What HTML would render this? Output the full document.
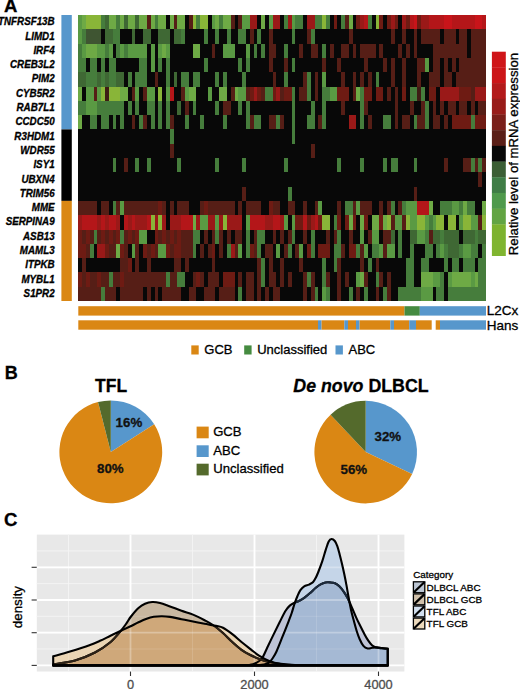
<!DOCTYPE html>
<html><head><meta charset="utf-8"><style>
html,body{margin:0;padding:0;background:#fff;}
svg{display:block;}
text{font-family:"Liberation Sans",sans-serif;stroke:currentColor;stroke-width:0.3px;paint-order:stroke;}
text[fill="#4d4d4d"]{color:#4d4d4d;}
text[fill="#111"]{color:#111;}
</style></head><body>
<svg width="520" height="689" viewBox="0 0 520 689" font-family="Liberation Sans, sans-serif">
<rect width="520" height="689" fill="#fff"/>
<text x="4.0" y="12.2" font-size="18.5" font-weight="bold">A</text>
<text transform="translate(54.6,25.20) scale(0.955,1)" font-size="10.25" font-weight="bold" font-style="italic" text-anchor="end">TNFRSF13B</text>
<text transform="translate(54.6,39.50) scale(0.955,1)" font-size="10.25" font-weight="bold" font-style="italic" text-anchor="end">LIMD1</text>
<text transform="translate(54.6,53.80) scale(0.955,1)" font-size="10.25" font-weight="bold" font-style="italic" text-anchor="end">IRF4</text>
<text transform="translate(54.6,68.10) scale(0.955,1)" font-size="10.25" font-weight="bold" font-style="italic" text-anchor="end">CREB3L2</text>
<text transform="translate(54.6,82.40) scale(0.955,1)" font-size="10.25" font-weight="bold" font-style="italic" text-anchor="end">PIM2</text>
<text transform="translate(54.6,96.70) scale(0.955,1)" font-size="10.25" font-weight="bold" font-style="italic" text-anchor="end">CYB5R2</text>
<text transform="translate(54.6,111.00) scale(0.955,1)" font-size="10.25" font-weight="bold" font-style="italic" text-anchor="end">RAB7L1</text>
<text transform="translate(54.6,125.30) scale(0.955,1)" font-size="10.25" font-weight="bold" font-style="italic" text-anchor="end">CCDC50</text>
<text transform="translate(54.6,139.60) scale(0.955,1)" font-size="10.25" font-weight="bold" font-style="italic" text-anchor="end">R3HDM1</text>
<text transform="translate(54.6,153.90) scale(0.955,1)" font-size="10.25" font-weight="bold" font-style="italic" text-anchor="end">WDR55</text>
<text transform="translate(54.6,168.20) scale(0.955,1)" font-size="10.25" font-weight="bold" font-style="italic" text-anchor="end">ISY1</text>
<text transform="translate(54.6,182.50) scale(0.955,1)" font-size="10.25" font-weight="bold" font-style="italic" text-anchor="end">UBXN4</text>
<text transform="translate(54.6,196.80) scale(0.955,1)" font-size="10.25" font-weight="bold" font-style="italic" text-anchor="end">TRIM56</text>
<text transform="translate(54.6,211.10) scale(0.955,1)" font-size="10.25" font-weight="bold" font-style="italic" text-anchor="end">MME</text>
<text transform="translate(54.6,225.40) scale(0.955,1)" font-size="10.25" font-weight="bold" font-style="italic" text-anchor="end">SERPINA9</text>
<text transform="translate(54.6,239.70) scale(0.955,1)" font-size="10.25" font-weight="bold" font-style="italic" text-anchor="end">ASB13</text>
<text transform="translate(54.6,254.00) scale(0.955,1)" font-size="10.25" font-weight="bold" font-style="italic" text-anchor="end">MAML3</text>
<text transform="translate(54.6,268.30) scale(0.955,1)" font-size="10.25" font-weight="bold" font-style="italic" text-anchor="end">ITPKB</text>
<text transform="translate(54.6,282.60) scale(0.955,1)" font-size="10.25" font-weight="bold" font-style="italic" text-anchor="end">MYBL1</text>
<text transform="translate(54.6,296.90) scale(0.955,1)" font-size="10.25" font-weight="bold" font-style="italic" text-anchor="end">S1PR2</text>
<rect x="61.4" y="15.0" width="10.4" height="114.40" fill="#5797cc"/>
<rect x="61.4" y="129.40" width="10.4" height="71.50" fill="#000"/>
<rect x="61.4" y="200.90" width="10.4" height="100.10" fill="#da8714"/>
<g shape-rendering="crispEdges">
<rect x="78.3" y="15.0" width="407.70" height="286.00" fill="#080808"/>
<rect x="78.30" y="15.00" width="3.81" height="14.30" fill="#5a9a43"/>
<rect x="82.11" y="15.00" width="3.81" height="14.30" fill="#6eaa45"/>
<rect x="85.92" y="15.00" width="15.24" height="14.30" fill="#89b538"/>
<rect x="101.16" y="15.00" width="3.81" height="14.30" fill="#467d3c"/>
<rect x="104.97" y="15.00" width="3.81" height="14.30" fill="#3f6834"/>
<rect x="108.78" y="15.00" width="7.62" height="14.30" fill="#6eaa45"/>
<rect x="116.40" y="15.00" width="3.81" height="14.30" fill="#467d3c"/>
<rect x="120.21" y="15.00" width="3.81" height="14.30" fill="#6eaa45"/>
<rect x="124.02" y="15.00" width="3.81" height="14.30" fill="#3f6834"/>
<rect x="127.83" y="15.00" width="7.62" height="14.30" fill="#6eaa45"/>
<rect x="135.45" y="15.00" width="3.81" height="14.30" fill="#3f6834"/>
<rect x="139.26" y="15.00" width="7.62" height="14.30" fill="#6eaa45"/>
<rect x="146.89" y="15.00" width="3.81" height="14.30" fill="#561e16"/>
<rect x="150.70" y="15.00" width="3.81" height="14.30" fill="#6eaa45"/>
<rect x="154.51" y="15.00" width="3.81" height="14.30" fill="#467d3c"/>
<rect x="158.32" y="15.00" width="7.62" height="14.30" fill="#6eaa45"/>
<rect x="169.75" y="15.00" width="3.81" height="14.30" fill="#6eaa45"/>
<rect x="173.56" y="15.00" width="3.81" height="14.30" fill="#561e16"/>
<rect x="177.37" y="15.00" width="7.62" height="14.30" fill="#6eaa45"/>
<rect x="188.80" y="15.00" width="3.81" height="14.30" fill="#561e16"/>
<rect x="192.61" y="15.00" width="3.81" height="14.30" fill="#89b538"/>
<rect x="196.42" y="15.00" width="3.81" height="14.30" fill="#467d3c"/>
<rect x="200.23" y="15.00" width="7.62" height="14.30" fill="#89b538"/>
<rect x="211.66" y="15.00" width="3.81" height="14.30" fill="#5a9a43"/>
<rect x="215.47" y="15.00" width="3.81" height="14.30" fill="#6eaa45"/>
<rect x="219.28" y="15.00" width="3.81" height="14.30" fill="#467d3c"/>
<rect x="223.09" y="15.00" width="7.62" height="14.30" fill="#6eaa45"/>
<rect x="230.71" y="15.00" width="3.81" height="14.30" fill="#561e16"/>
<rect x="238.33" y="15.00" width="3.81" height="14.30" fill="#561e16"/>
<rect x="242.14" y="15.00" width="7.62" height="14.30" fill="#5a9a43"/>
<rect x="249.76" y="15.00" width="7.62" height="14.30" fill="#9a1918"/>
<rect x="261.19" y="15.00" width="3.81" height="14.30" fill="#6eaa45"/>
<rect x="268.81" y="15.00" width="3.81" height="14.30" fill="#5a9a43"/>
<rect x="272.62" y="15.00" width="7.62" height="14.30" fill="#9a1918"/>
<rect x="284.06" y="15.00" width="3.81" height="14.30" fill="#467d3c"/>
<rect x="287.87" y="15.00" width="3.81" height="14.30" fill="#9a1918"/>
<rect x="291.68" y="15.00" width="3.81" height="14.30" fill="#5a9a43"/>
<rect x="295.49" y="15.00" width="7.62" height="14.30" fill="#467d3c"/>
<rect x="306.92" y="15.00" width="7.62" height="14.30" fill="#9a1918"/>
<rect x="314.54" y="15.00" width="7.62" height="14.30" fill="#467d3c"/>
<rect x="322.16" y="15.00" width="3.81" height="14.30" fill="#89b538"/>
<rect x="325.97" y="15.00" width="3.81" height="14.30" fill="#467d3c"/>
<rect x="333.59" y="15.00" width="3.81" height="14.30" fill="#6e1b13"/>
<rect x="341.21" y="15.00" width="3.81" height="14.30" fill="#467d3c"/>
<rect x="345.02" y="15.00" width="3.81" height="14.30" fill="#561e16"/>
<rect x="348.83" y="15.00" width="3.81" height="14.30" fill="#6eaa45"/>
<rect x="356.45" y="15.00" width="3.81" height="14.30" fill="#6e1b13"/>
<rect x="360.26" y="15.00" width="3.81" height="14.30" fill="#9a1918"/>
<rect x="364.07" y="15.00" width="3.81" height="14.30" fill="#b41619"/>
<rect x="367.88" y="15.00" width="3.81" height="14.30" fill="#467d3c"/>
<rect x="375.50" y="15.00" width="3.81" height="14.30" fill="#89b538"/>
<rect x="379.31" y="15.00" width="3.81" height="14.30" fill="#6e1b13"/>
<rect x="386.93" y="15.00" width="3.81" height="14.30" fill="#6e1b13"/>
<rect x="390.74" y="15.00" width="3.81" height="14.30" fill="#9a1918"/>
<rect x="394.55" y="15.00" width="3.81" height="14.30" fill="#6e1b13"/>
<rect x="402.17" y="15.00" width="3.81" height="14.30" fill="#9a1918"/>
<rect x="405.98" y="15.00" width="3.81" height="14.30" fill="#6e1b13"/>
<rect x="409.79" y="15.00" width="3.81" height="14.30" fill="#b41619"/>
<rect x="413.60" y="15.00" width="3.81" height="14.30" fill="#c8141a"/>
<rect x="417.41" y="15.00" width="3.81" height="14.30" fill="#6e1b13"/>
<rect x="421.23" y="15.00" width="7.62" height="14.30" fill="#9a1918"/>
<rect x="428.85" y="15.00" width="15.24" height="14.30" fill="#b41619"/>
<rect x="444.09" y="15.00" width="7.62" height="14.30" fill="#c8141a"/>
<rect x="451.71" y="15.00" width="22.86" height="14.30" fill="#b41619"/>
<rect x="474.57" y="15.00" width="7.62" height="14.30" fill="#c8141a"/>
<rect x="482.19" y="15.00" width="3.81" height="14.30" fill="#b41619"/>
<rect x="78.30" y="29.30" width="3.81" height="14.30" fill="#5a9a43"/>
<rect x="82.11" y="29.30" width="3.81" height="14.30" fill="#467d3c"/>
<rect x="85.92" y="29.30" width="15.24" height="14.30" fill="#3f5532"/>
<rect x="104.97" y="29.30" width="7.62" height="14.30" fill="#3f6834"/>
<rect x="112.59" y="29.30" width="7.62" height="14.30" fill="#467d3c"/>
<rect x="131.64" y="29.30" width="3.81" height="14.30" fill="#3f6834"/>
<rect x="143.07" y="29.30" width="7.62" height="14.30" fill="#3f6834"/>
<rect x="158.32" y="29.30" width="11.43" height="14.30" fill="#3f6834"/>
<rect x="173.56" y="29.30" width="7.62" height="14.30" fill="#3f6834"/>
<rect x="181.18" y="29.30" width="3.81" height="14.30" fill="#467d3c"/>
<rect x="204.04" y="29.30" width="3.81" height="14.30" fill="#467d3c"/>
<rect x="215.47" y="29.30" width="3.81" height="14.30" fill="#467d3c"/>
<rect x="226.90" y="29.30" width="3.81" height="14.30" fill="#467d3c"/>
<rect x="238.33" y="29.30" width="7.62" height="14.30" fill="#467d3c"/>
<rect x="249.76" y="29.30" width="3.81" height="14.30" fill="#561e16"/>
<rect x="257.38" y="29.30" width="3.81" height="14.30" fill="#467d3c"/>
<rect x="268.81" y="29.30" width="3.81" height="14.30" fill="#561e16"/>
<rect x="291.68" y="29.30" width="3.81" height="14.30" fill="#467d3c"/>
<rect x="306.92" y="29.30" width="3.81" height="14.30" fill="#561e16"/>
<rect x="310.73" y="29.30" width="3.81" height="14.30" fill="#467d3c"/>
<rect x="348.83" y="29.30" width="3.81" height="14.30" fill="#561e16"/>
<rect x="390.74" y="29.30" width="3.81" height="14.30" fill="#561e16"/>
<rect x="402.17" y="29.30" width="3.81" height="14.30" fill="#561e16"/>
<rect x="413.60" y="29.30" width="3.81" height="14.30" fill="#561e16"/>
<rect x="421.23" y="29.30" width="19.05" height="14.30" fill="#561e16"/>
<rect x="444.09" y="29.30" width="11.43" height="14.30" fill="#561e16"/>
<rect x="459.33" y="29.30" width="7.62" height="14.30" fill="#561e16"/>
<rect x="470.76" y="29.30" width="15.24" height="14.30" fill="#561e16"/>
<rect x="78.30" y="43.60" width="3.81" height="14.30" fill="#467d3c"/>
<rect x="82.11" y="43.60" width="3.81" height="14.30" fill="#5a9a43"/>
<rect x="85.92" y="43.60" width="11.43" height="14.30" fill="#6eaa45"/>
<rect x="97.35" y="43.60" width="7.62" height="14.30" fill="#5a9a43"/>
<rect x="104.97" y="43.60" width="3.81" height="14.30" fill="#467d3c"/>
<rect x="108.78" y="43.60" width="3.81" height="14.30" fill="#5a9a43"/>
<rect x="116.40" y="43.60" width="3.81" height="14.30" fill="#467d3c"/>
<rect x="120.21" y="43.60" width="3.81" height="14.30" fill="#5a9a43"/>
<rect x="124.02" y="43.60" width="3.81" height="14.30" fill="#467d3c"/>
<rect x="127.83" y="43.60" width="19.05" height="14.30" fill="#5a9a43"/>
<rect x="150.70" y="43.60" width="3.81" height="14.30" fill="#5a9a43"/>
<rect x="158.32" y="43.60" width="3.81" height="14.30" fill="#5a9a43"/>
<rect x="162.13" y="43.60" width="3.81" height="14.30" fill="#6eaa45"/>
<rect x="165.94" y="43.60" width="3.81" height="14.30" fill="#5a9a43"/>
<rect x="192.61" y="43.60" width="7.62" height="14.30" fill="#6eaa45"/>
<rect x="211.66" y="43.60" width="3.81" height="14.30" fill="#561e16"/>
<rect x="223.09" y="43.60" width="11.43" height="14.30" fill="#5a9a43"/>
<rect x="245.95" y="43.60" width="3.81" height="14.30" fill="#5a9a43"/>
<rect x="253.57" y="43.60" width="3.81" height="14.30" fill="#467d3c"/>
<rect x="261.19" y="43.60" width="3.81" height="14.30" fill="#467d3c"/>
<rect x="268.81" y="43.60" width="7.62" height="14.30" fill="#561e16"/>
<rect x="284.06" y="43.60" width="3.81" height="14.30" fill="#467d3c"/>
<rect x="299.30" y="43.60" width="3.81" height="14.30" fill="#561e16"/>
<rect x="310.73" y="43.60" width="7.62" height="14.30" fill="#561e16"/>
<rect x="322.16" y="43.60" width="3.81" height="14.30" fill="#467d3c"/>
<rect x="329.78" y="43.60" width="3.81" height="14.30" fill="#561e16"/>
<rect x="341.21" y="43.60" width="7.62" height="14.30" fill="#561e16"/>
<rect x="352.64" y="43.60" width="3.81" height="14.30" fill="#561e16"/>
<rect x="360.26" y="43.60" width="15.24" height="14.30" fill="#561e16"/>
<rect x="379.31" y="43.60" width="3.81" height="14.30" fill="#561e16"/>
<rect x="398.36" y="43.60" width="3.81" height="14.30" fill="#561e16"/>
<rect x="405.98" y="43.60" width="3.81" height="14.30" fill="#561e16"/>
<rect x="413.60" y="43.60" width="3.81" height="14.30" fill="#561e16"/>
<rect x="432.66" y="43.60" width="34.29" height="14.30" fill="#561e16"/>
<rect x="470.76" y="43.60" width="15.24" height="14.30" fill="#561e16"/>
<rect x="78.30" y="57.90" width="7.62" height="14.30" fill="#467d3c"/>
<rect x="89.73" y="57.90" width="7.62" height="14.30" fill="#467d3c"/>
<rect x="101.16" y="57.90" width="3.81" height="14.30" fill="#467d3c"/>
<rect x="108.78" y="57.90" width="7.62" height="14.30" fill="#467d3c"/>
<rect x="139.26" y="57.90" width="7.62" height="14.30" fill="#467d3c"/>
<rect x="150.70" y="57.90" width="3.81" height="14.30" fill="#5a9a43"/>
<rect x="158.32" y="57.90" width="3.81" height="14.30" fill="#467d3c"/>
<rect x="165.94" y="57.90" width="3.81" height="14.30" fill="#467d3c"/>
<rect x="204.04" y="57.90" width="3.81" height="14.30" fill="#467d3c"/>
<rect x="238.33" y="57.90" width="3.81" height="14.30" fill="#467d3c"/>
<rect x="245.95" y="57.90" width="3.81" height="14.30" fill="#467d3c"/>
<rect x="268.81" y="57.90" width="3.81" height="14.30" fill="#561e16"/>
<rect x="284.06" y="57.90" width="3.81" height="14.30" fill="#561e16"/>
<rect x="291.68" y="57.90" width="3.81" height="14.30" fill="#467d3c"/>
<rect x="322.16" y="57.90" width="3.81" height="14.30" fill="#561e16"/>
<rect x="337.40" y="57.90" width="3.81" height="14.30" fill="#561e16"/>
<rect x="364.07" y="57.90" width="3.81" height="14.30" fill="#561e16"/>
<rect x="383.12" y="57.90" width="3.81" height="14.30" fill="#561e16"/>
<rect x="390.74" y="57.90" width="3.81" height="14.30" fill="#561e16"/>
<rect x="402.17" y="57.90" width="3.81" height="14.30" fill="#561e16"/>
<rect x="417.41" y="57.90" width="7.62" height="14.30" fill="#561e16"/>
<rect x="425.04" y="57.90" width="3.81" height="14.30" fill="#5a9a43"/>
<rect x="432.66" y="57.90" width="7.62" height="14.30" fill="#561e16"/>
<rect x="444.09" y="57.90" width="3.81" height="14.30" fill="#561e16"/>
<rect x="451.71" y="57.90" width="3.81" height="14.30" fill="#561e16"/>
<rect x="459.33" y="57.90" width="26.67" height="14.30" fill="#561e16"/>
<rect x="78.30" y="72.20" width="7.62" height="14.30" fill="#3f6834"/>
<rect x="85.92" y="72.20" width="11.43" height="14.30" fill="#467d3c"/>
<rect x="97.35" y="72.20" width="3.81" height="14.30" fill="#3f6834"/>
<rect x="101.16" y="72.20" width="3.81" height="14.30" fill="#467d3c"/>
<rect x="104.97" y="72.20" width="3.81" height="14.30" fill="#3f6834"/>
<rect x="108.78" y="72.20" width="7.62" height="14.30" fill="#467d3c"/>
<rect x="116.40" y="72.20" width="7.62" height="14.30" fill="#3f6834"/>
<rect x="127.83" y="72.20" width="3.81" height="14.30" fill="#467d3c"/>
<rect x="135.45" y="72.20" width="11.43" height="14.30" fill="#467d3c"/>
<rect x="154.51" y="72.20" width="3.81" height="14.30" fill="#561e16"/>
<rect x="165.94" y="72.20" width="3.81" height="14.30" fill="#467d3c"/>
<rect x="173.56" y="72.20" width="3.81" height="14.30" fill="#3f6834"/>
<rect x="181.18" y="72.20" width="7.62" height="14.30" fill="#467d3c"/>
<rect x="192.61" y="72.20" width="7.62" height="14.30" fill="#467d3c"/>
<rect x="215.47" y="72.20" width="3.81" height="14.30" fill="#467d3c"/>
<rect x="223.09" y="72.20" width="3.81" height="14.30" fill="#467d3c"/>
<rect x="242.14" y="72.20" width="3.81" height="14.30" fill="#467d3c"/>
<rect x="272.62" y="72.20" width="3.81" height="14.30" fill="#561e16"/>
<rect x="284.06" y="72.20" width="3.81" height="14.30" fill="#467d3c"/>
<rect x="303.11" y="72.20" width="3.81" height="14.30" fill="#561e16"/>
<rect x="306.92" y="72.20" width="3.81" height="14.30" fill="#467d3c"/>
<rect x="314.54" y="72.20" width="3.81" height="14.30" fill="#561e16"/>
<rect x="322.16" y="72.20" width="3.81" height="14.30" fill="#5a9a43"/>
<rect x="341.21" y="72.20" width="3.81" height="14.30" fill="#561e16"/>
<rect x="352.64" y="72.20" width="3.81" height="14.30" fill="#561e16"/>
<rect x="360.26" y="72.20" width="3.81" height="14.30" fill="#561e16"/>
<rect x="367.88" y="72.20" width="3.81" height="14.30" fill="#561e16"/>
<rect x="375.50" y="72.20" width="3.81" height="14.30" fill="#467d3c"/>
<rect x="390.74" y="72.20" width="3.81" height="14.30" fill="#561e16"/>
<rect x="402.17" y="72.20" width="3.81" height="14.30" fill="#561e16"/>
<rect x="417.41" y="72.20" width="3.81" height="14.30" fill="#561e16"/>
<rect x="428.85" y="72.20" width="11.43" height="14.30" fill="#561e16"/>
<rect x="444.09" y="72.20" width="7.62" height="14.30" fill="#561e16"/>
<rect x="455.52" y="72.20" width="30.48" height="14.30" fill="#561e16"/>
<rect x="78.30" y="86.50" width="3.81" height="14.30" fill="#6eaa45"/>
<rect x="85.92" y="86.50" width="7.62" height="14.30" fill="#5a9a43"/>
<rect x="93.54" y="86.50" width="3.81" height="14.30" fill="#561e16"/>
<rect x="97.35" y="86.50" width="3.81" height="14.30" fill="#5a9a43"/>
<rect x="101.16" y="86.50" width="3.81" height="14.30" fill="#89b538"/>
<rect x="104.97" y="86.50" width="3.81" height="14.30" fill="#3e1c14"/>
<rect x="108.78" y="86.50" width="11.43" height="14.30" fill="#89b538"/>
<rect x="120.21" y="86.50" width="7.62" height="14.30" fill="#6eaa45"/>
<rect x="131.64" y="86.50" width="3.81" height="14.30" fill="#561e16"/>
<rect x="135.45" y="86.50" width="3.81" height="14.30" fill="#5a9a43"/>
<rect x="143.07" y="86.50" width="3.81" height="14.30" fill="#561e16"/>
<rect x="146.89" y="86.50" width="7.62" height="14.30" fill="#5a9a43"/>
<rect x="158.32" y="86.50" width="3.81" height="14.30" fill="#89b538"/>
<rect x="165.94" y="86.50" width="3.81" height="14.30" fill="#5a9a43"/>
<rect x="169.75" y="86.50" width="3.81" height="14.30" fill="#b41619"/>
<rect x="181.18" y="86.50" width="3.81" height="14.30" fill="#561e16"/>
<rect x="184.99" y="86.50" width="3.81" height="14.30" fill="#5a9a43"/>
<rect x="188.80" y="86.50" width="7.62" height="14.30" fill="#6eaa45"/>
<rect x="207.85" y="86.50" width="3.81" height="14.30" fill="#5a9a43"/>
<rect x="219.28" y="86.50" width="7.62" height="14.30" fill="#6eaa45"/>
<rect x="230.71" y="86.50" width="3.81" height="14.30" fill="#561e16"/>
<rect x="234.52" y="86.50" width="3.81" height="14.30" fill="#6eaa45"/>
<rect x="238.33" y="86.50" width="7.62" height="14.30" fill="#5a9a43"/>
<rect x="245.95" y="86.50" width="3.81" height="14.30" fill="#561e16"/>
<rect x="249.76" y="86.50" width="3.81" height="14.30" fill="#6e1b13"/>
<rect x="253.57" y="86.50" width="3.81" height="14.30" fill="#9a1918"/>
<rect x="257.38" y="86.50" width="3.81" height="14.30" fill="#6e1b13"/>
<rect x="261.19" y="86.50" width="3.81" height="14.30" fill="#561e16"/>
<rect x="265.00" y="86.50" width="7.62" height="14.30" fill="#467d3c"/>
<rect x="272.62" y="86.50" width="3.81" height="14.30" fill="#6e1b13"/>
<rect x="276.43" y="86.50" width="3.81" height="14.30" fill="#9a1918"/>
<rect x="280.24" y="86.50" width="3.81" height="14.30" fill="#561e16"/>
<rect x="284.06" y="86.50" width="7.62" height="14.30" fill="#6e1b13"/>
<rect x="291.68" y="86.50" width="3.81" height="14.30" fill="#467d3c"/>
<rect x="299.30" y="86.50" width="7.62" height="14.30" fill="#561e16"/>
<rect x="306.92" y="86.50" width="3.81" height="14.30" fill="#467d3c"/>
<rect x="314.54" y="86.50" width="3.81" height="14.30" fill="#561e16"/>
<rect x="322.16" y="86.50" width="7.62" height="14.30" fill="#467d3c"/>
<rect x="329.78" y="86.50" width="7.62" height="14.30" fill="#5a9a43"/>
<rect x="337.40" y="86.50" width="11.43" height="14.30" fill="#6e1b13"/>
<rect x="352.64" y="86.50" width="3.81" height="14.30" fill="#561e16"/>
<rect x="356.45" y="86.50" width="3.81" height="14.30" fill="#6eaa45"/>
<rect x="360.26" y="86.50" width="3.81" height="14.30" fill="#467d3c"/>
<rect x="364.07" y="86.50" width="7.62" height="14.30" fill="#6e1b13"/>
<rect x="375.50" y="86.50" width="7.62" height="14.30" fill="#6e1b13"/>
<rect x="386.93" y="86.50" width="3.81" height="14.30" fill="#561e16"/>
<rect x="394.55" y="86.50" width="3.81" height="14.30" fill="#561e16"/>
<rect x="402.17" y="86.50" width="3.81" height="14.30" fill="#6e1b13"/>
<rect x="409.79" y="86.50" width="7.62" height="14.30" fill="#467d3c"/>
<rect x="417.41" y="86.50" width="3.81" height="14.30" fill="#3e1c14"/>
<rect x="421.23" y="86.50" width="3.81" height="14.30" fill="#467d3c"/>
<rect x="428.85" y="86.50" width="7.62" height="14.30" fill="#6e1b13"/>
<rect x="440.28" y="86.50" width="19.05" height="14.30" fill="#9a1918"/>
<rect x="459.33" y="86.50" width="11.43" height="14.30" fill="#6e1b13"/>
<rect x="470.76" y="86.50" width="3.81" height="14.30" fill="#561e16"/>
<rect x="474.57" y="86.50" width="11.43" height="14.30" fill="#9a1918"/>
<rect x="78.30" y="100.80" width="7.62" height="14.30" fill="#467d3c"/>
<rect x="85.92" y="100.80" width="11.43" height="14.30" fill="#5a9a43"/>
<rect x="97.35" y="100.80" width="26.67" height="14.30" fill="#467d3c"/>
<rect x="127.83" y="100.80" width="3.81" height="14.30" fill="#467d3c"/>
<rect x="135.45" y="100.80" width="3.81" height="14.30" fill="#467d3c"/>
<rect x="146.89" y="100.80" width="7.62" height="14.30" fill="#467d3c"/>
<rect x="158.32" y="100.80" width="3.81" height="14.30" fill="#467d3c"/>
<rect x="165.94" y="100.80" width="3.81" height="14.30" fill="#467d3c"/>
<rect x="177.37" y="100.80" width="3.81" height="14.30" fill="#3f6834"/>
<rect x="184.99" y="100.80" width="3.81" height="14.30" fill="#561e16"/>
<rect x="192.61" y="100.80" width="3.81" height="14.30" fill="#467d3c"/>
<rect x="215.47" y="100.80" width="3.81" height="14.30" fill="#467d3c"/>
<rect x="223.09" y="100.80" width="7.62" height="14.30" fill="#561e16"/>
<rect x="238.33" y="100.80" width="3.81" height="14.30" fill="#467d3c"/>
<rect x="245.95" y="100.80" width="3.81" height="14.30" fill="#467d3c"/>
<rect x="291.68" y="100.80" width="3.81" height="14.30" fill="#467d3c"/>
<rect x="310.73" y="100.80" width="3.81" height="14.30" fill="#467d3c"/>
<rect x="322.16" y="100.80" width="3.81" height="14.30" fill="#467d3c"/>
<rect x="341.21" y="100.80" width="3.81" height="14.30" fill="#561e16"/>
<rect x="360.26" y="100.80" width="3.81" height="14.30" fill="#467d3c"/>
<rect x="364.07" y="100.80" width="3.81" height="14.30" fill="#561e16"/>
<rect x="394.55" y="100.80" width="3.81" height="14.30" fill="#561e16"/>
<rect x="409.79" y="100.80" width="3.81" height="14.30" fill="#561e16"/>
<rect x="421.23" y="100.80" width="3.81" height="14.30" fill="#561e16"/>
<rect x="425.04" y="100.80" width="3.81" height="14.30" fill="#467d3c"/>
<rect x="432.66" y="100.80" width="3.81" height="14.30" fill="#561e16"/>
<rect x="440.28" y="100.80" width="3.81" height="14.30" fill="#561e16"/>
<rect x="447.90" y="100.80" width="7.62" height="14.30" fill="#561e16"/>
<rect x="459.33" y="100.80" width="7.62" height="14.30" fill="#561e16"/>
<rect x="470.76" y="100.80" width="3.81" height="14.30" fill="#561e16"/>
<rect x="478.38" y="100.80" width="7.62" height="14.30" fill="#561e16"/>
<rect x="78.30" y="115.10" width="3.81" height="14.30" fill="#6eaa45"/>
<rect x="89.73" y="115.10" width="7.62" height="14.30" fill="#467d3c"/>
<rect x="101.16" y="115.10" width="7.62" height="14.30" fill="#467d3c"/>
<rect x="112.59" y="115.10" width="3.81" height="14.30" fill="#467d3c"/>
<rect x="120.21" y="115.10" width="3.81" height="14.30" fill="#467d3c"/>
<rect x="131.64" y="115.10" width="3.81" height="14.30" fill="#561e16"/>
<rect x="139.26" y="115.10" width="3.81" height="14.30" fill="#467d3c"/>
<rect x="143.07" y="115.10" width="3.81" height="14.30" fill="#561e16"/>
<rect x="150.70" y="115.10" width="3.81" height="14.30" fill="#467d3c"/>
<rect x="158.32" y="115.10" width="3.81" height="14.30" fill="#467d3c"/>
<rect x="165.94" y="115.10" width="3.81" height="14.30" fill="#467d3c"/>
<rect x="169.75" y="115.10" width="3.81" height="14.30" fill="#561e16"/>
<rect x="184.99" y="115.10" width="3.81" height="14.30" fill="#467d3c"/>
<rect x="200.23" y="115.10" width="3.81" height="14.30" fill="#467d3c"/>
<rect x="223.09" y="115.10" width="3.81" height="14.30" fill="#467d3c"/>
<rect x="245.95" y="115.10" width="3.81" height="14.30" fill="#467d3c"/>
<rect x="249.76" y="115.10" width="3.81" height="14.30" fill="#561e16"/>
<rect x="253.57" y="115.10" width="7.62" height="14.30" fill="#467d3c"/>
<rect x="268.81" y="115.10" width="7.62" height="14.30" fill="#561e16"/>
<rect x="276.43" y="115.10" width="3.81" height="14.30" fill="#467d3c"/>
<rect x="280.24" y="115.10" width="3.81" height="14.30" fill="#561e16"/>
<rect x="291.68" y="115.10" width="3.81" height="14.30" fill="#467d3c"/>
<rect x="306.92" y="115.10" width="7.62" height="14.30" fill="#467d3c"/>
<rect x="318.35" y="115.10" width="3.81" height="14.30" fill="#561e16"/>
<rect x="322.16" y="115.10" width="3.81" height="14.30" fill="#467d3c"/>
<rect x="348.83" y="115.10" width="7.62" height="14.30" fill="#9a1918"/>
<rect x="360.26" y="115.10" width="3.81" height="14.30" fill="#467d3c"/>
<rect x="367.88" y="115.10" width="3.81" height="14.30" fill="#561e16"/>
<rect x="383.12" y="115.10" width="7.62" height="14.30" fill="#467d3c"/>
<rect x="394.55" y="115.10" width="3.81" height="14.30" fill="#561e16"/>
<rect x="402.17" y="115.10" width="7.62" height="14.30" fill="#561e16"/>
<rect x="413.60" y="115.10" width="3.81" height="14.30" fill="#467d3c"/>
<rect x="417.41" y="115.10" width="7.62" height="14.30" fill="#561e16"/>
<rect x="425.04" y="115.10" width="3.81" height="14.30" fill="#467d3c"/>
<rect x="432.66" y="115.10" width="7.62" height="14.30" fill="#561e16"/>
<rect x="444.09" y="115.10" width="3.81" height="14.30" fill="#561e16"/>
<rect x="451.71" y="115.10" width="19.05" height="14.30" fill="#6e1b13"/>
<rect x="470.76" y="115.10" width="3.81" height="14.30" fill="#467d3c"/>
<rect x="474.57" y="115.10" width="11.43" height="14.30" fill="#6e1b13"/>
<rect x="169.75" y="129.40" width="3.81" height="14.30" fill="#467d3c"/>
<rect x="291.68" y="129.40" width="3.81" height="14.30" fill="#467d3c"/>
<rect x="169.75" y="143.70" width="3.81" height="14.30" fill="#561e16"/>
<rect x="310.73" y="143.70" width="3.81" height="14.30" fill="#561e16"/>
<rect x="112.59" y="158.00" width="3.81" height="14.30" fill="#467d3c"/>
<rect x="124.02" y="158.00" width="3.81" height="14.30" fill="#561e16"/>
<rect x="135.45" y="158.00" width="3.81" height="14.30" fill="#467d3c"/>
<rect x="146.89" y="158.00" width="3.81" height="14.30" fill="#467d3c"/>
<rect x="177.37" y="158.00" width="3.81" height="14.30" fill="#467d3c"/>
<rect x="215.47" y="158.00" width="3.81" height="14.30" fill="#467d3c"/>
<rect x="242.14" y="158.00" width="3.81" height="14.30" fill="#467d3c"/>
<rect x="284.06" y="158.00" width="3.81" height="14.30" fill="#467d3c"/>
<rect x="337.40" y="158.00" width="3.81" height="14.30" fill="#467d3c"/>
<rect x="360.26" y="158.00" width="3.81" height="14.30" fill="#467d3c"/>
<rect x="383.12" y="158.00" width="3.81" height="14.30" fill="#467d3c"/>
<rect x="390.74" y="158.00" width="7.62" height="14.30" fill="#467d3c"/>
<rect x="413.60" y="158.00" width="3.81" height="14.30" fill="#467d3c"/>
<rect x="444.09" y="158.00" width="3.81" height="14.30" fill="#561e16"/>
<rect x="463.14" y="158.00" width="7.62" height="14.30" fill="#561e16"/>
<rect x="470.76" y="158.00" width="3.81" height="14.30" fill="#467d3c"/>
<rect x="474.57" y="158.00" width="3.81" height="14.30" fill="#561e16"/>
<rect x="478.38" y="158.00" width="3.81" height="14.30" fill="#467d3c"/>
<rect x="482.19" y="158.00" width="3.81" height="14.30" fill="#561e16"/>
<rect x="478.38" y="172.30" width="3.81" height="14.30" fill="#561e16"/>
<rect x="242.14" y="186.60" width="3.81" height="14.30" fill="#561e16"/>
<rect x="287.87" y="186.60" width="3.81" height="14.30" fill="#467d3c"/>
<rect x="413.60" y="186.60" width="3.81" height="14.30" fill="#561e16"/>
<rect x="78.30" y="200.90" width="19.05" height="14.30" fill="#561e16"/>
<rect x="101.16" y="200.90" width="7.62" height="14.30" fill="#561e16"/>
<rect x="112.59" y="200.90" width="3.81" height="14.30" fill="#467d3c"/>
<rect x="116.40" y="200.90" width="3.81" height="14.30" fill="#561e16"/>
<rect x="120.21" y="200.90" width="3.81" height="14.30" fill="#5a9a43"/>
<rect x="124.02" y="200.90" width="34.29" height="14.30" fill="#561e16"/>
<rect x="158.32" y="200.90" width="3.81" height="14.30" fill="#6e1b13"/>
<rect x="162.13" y="200.90" width="3.81" height="14.30" fill="#561e16"/>
<rect x="169.75" y="200.90" width="3.81" height="14.30" fill="#561e16"/>
<rect x="177.37" y="200.90" width="11.43" height="14.30" fill="#561e16"/>
<rect x="200.23" y="200.90" width="3.81" height="14.30" fill="#561e16"/>
<rect x="204.04" y="200.90" width="3.81" height="14.30" fill="#6e1b13"/>
<rect x="207.85" y="200.90" width="26.67" height="14.30" fill="#561e16"/>
<rect x="238.33" y="200.90" width="3.81" height="14.30" fill="#561e16"/>
<rect x="245.95" y="200.90" width="15.24" height="14.30" fill="#561e16"/>
<rect x="268.81" y="200.90" width="3.81" height="14.30" fill="#6e1b13"/>
<rect x="272.62" y="200.90" width="7.62" height="14.30" fill="#561e16"/>
<rect x="287.87" y="200.90" width="7.62" height="14.30" fill="#561e16"/>
<rect x="303.11" y="200.90" width="3.81" height="14.30" fill="#561e16"/>
<rect x="314.54" y="200.90" width="3.81" height="14.30" fill="#561e16"/>
<rect x="318.35" y="200.90" width="3.81" height="14.30" fill="#5a9a43"/>
<rect x="337.40" y="200.90" width="3.81" height="14.30" fill="#561e16"/>
<rect x="345.02" y="200.90" width="7.62" height="14.30" fill="#467d3c"/>
<rect x="352.64" y="200.90" width="3.81" height="14.30" fill="#561e16"/>
<rect x="356.45" y="200.90" width="3.81" height="14.30" fill="#5a9a43"/>
<rect x="360.26" y="200.90" width="11.43" height="14.30" fill="#561e16"/>
<rect x="379.31" y="200.90" width="3.81" height="14.30" fill="#561e16"/>
<rect x="386.93" y="200.90" width="3.81" height="14.30" fill="#561e16"/>
<rect x="390.74" y="200.90" width="3.81" height="14.30" fill="#467d3c"/>
<rect x="398.36" y="200.90" width="3.81" height="14.30" fill="#561e16"/>
<rect x="402.17" y="200.90" width="3.81" height="14.30" fill="#467d3c"/>
<rect x="405.98" y="200.90" width="11.43" height="14.30" fill="#5a9a43"/>
<rect x="417.41" y="200.90" width="11.43" height="14.30" fill="#b41619"/>
<rect x="428.85" y="200.90" width="3.81" height="14.30" fill="#6eaa45"/>
<rect x="440.28" y="200.90" width="11.43" height="14.30" fill="#467d3c"/>
<rect x="451.71" y="200.90" width="7.62" height="14.30" fill="#5a9a43"/>
<rect x="459.33" y="200.90" width="3.81" height="14.30" fill="#467d3c"/>
<rect x="463.14" y="200.90" width="3.81" height="14.30" fill="#6eaa45"/>
<rect x="466.95" y="200.90" width="7.62" height="14.30" fill="#467d3c"/>
<rect x="482.19" y="200.90" width="3.81" height="14.30" fill="#6eaa45"/>
<rect x="78.30" y="215.20" width="3.81" height="14.30" fill="#9a1918"/>
<rect x="82.11" y="215.20" width="15.24" height="14.30" fill="#b41619"/>
<rect x="97.35" y="215.20" width="3.81" height="14.30" fill="#9a1918"/>
<rect x="101.16" y="215.20" width="3.81" height="14.30" fill="#b41619"/>
<rect x="104.97" y="215.20" width="3.81" height="14.30" fill="#9a1918"/>
<rect x="108.78" y="215.20" width="7.62" height="14.30" fill="#b41619"/>
<rect x="116.40" y="215.20" width="3.81" height="14.30" fill="#9a1918"/>
<rect x="124.02" y="215.20" width="3.81" height="14.30" fill="#b41619"/>
<rect x="127.83" y="215.20" width="3.81" height="14.30" fill="#9a1918"/>
<rect x="131.64" y="215.20" width="3.81" height="14.30" fill="#b41619"/>
<rect x="135.45" y="215.20" width="11.43" height="14.30" fill="#9a1918"/>
<rect x="146.89" y="215.20" width="3.81" height="14.30" fill="#b41619"/>
<rect x="150.70" y="215.20" width="3.81" height="14.30" fill="#89b538"/>
<rect x="154.51" y="215.20" width="3.81" height="14.30" fill="#9a1918"/>
<rect x="158.32" y="215.20" width="3.81" height="14.30" fill="#89b538"/>
<rect x="162.13" y="215.20" width="3.81" height="14.30" fill="#9a1918"/>
<rect x="169.75" y="215.20" width="11.43" height="14.30" fill="#9a1918"/>
<rect x="181.18" y="215.20" width="11.43" height="14.30" fill="#b41619"/>
<rect x="192.61" y="215.20" width="3.81" height="14.30" fill="#6eaa45"/>
<rect x="196.42" y="215.20" width="3.81" height="14.30" fill="#9a1918"/>
<rect x="200.23" y="215.20" width="7.62" height="14.30" fill="#5a9a43"/>
<rect x="207.85" y="215.20" width="7.62" height="14.30" fill="#9a1918"/>
<rect x="215.47" y="215.20" width="3.81" height="14.30" fill="#5a9a43"/>
<rect x="219.28" y="215.20" width="3.81" height="14.30" fill="#9a1918"/>
<rect x="223.09" y="215.20" width="3.81" height="14.30" fill="#89b538"/>
<rect x="226.90" y="215.20" width="15.24" height="14.30" fill="#9a1918"/>
<rect x="245.95" y="215.20" width="3.81" height="14.30" fill="#5a9a43"/>
<rect x="249.76" y="215.20" width="15.24" height="14.30" fill="#b41619"/>
<rect x="265.00" y="215.20" width="7.62" height="14.30" fill="#9a1918"/>
<rect x="272.62" y="215.20" width="7.62" height="14.30" fill="#b41619"/>
<rect x="280.24" y="215.20" width="3.81" height="14.30" fill="#9a1918"/>
<rect x="284.06" y="215.20" width="3.81" height="14.30" fill="#5a9a43"/>
<rect x="291.68" y="215.20" width="3.81" height="14.30" fill="#5a9a43"/>
<rect x="295.49" y="215.20" width="7.62" height="14.30" fill="#6e1b13"/>
<rect x="303.11" y="215.20" width="3.81" height="14.30" fill="#b41619"/>
<rect x="306.92" y="215.20" width="3.81" height="14.30" fill="#6e1b13"/>
<rect x="310.73" y="215.20" width="3.81" height="14.30" fill="#9a1918"/>
<rect x="314.54" y="215.20" width="3.81" height="14.30" fill="#b41619"/>
<rect x="318.35" y="215.20" width="3.81" height="14.30" fill="#6e1b13"/>
<rect x="322.16" y="215.20" width="7.62" height="14.30" fill="#89b538"/>
<rect x="333.59" y="215.20" width="3.81" height="14.30" fill="#467d3c"/>
<rect x="337.40" y="215.20" width="3.81" height="14.30" fill="#6e1b13"/>
<rect x="345.02" y="215.20" width="3.81" height="14.30" fill="#6e1b13"/>
<rect x="348.83" y="215.20" width="3.81" height="14.30" fill="#6eaa45"/>
<rect x="352.64" y="215.20" width="3.81" height="14.30" fill="#6e1b13"/>
<rect x="360.26" y="215.20" width="3.81" height="14.30" fill="#6eaa45"/>
<rect x="364.07" y="215.20" width="3.81" height="14.30" fill="#6e1b13"/>
<rect x="371.69" y="215.20" width="7.62" height="14.30" fill="#6eaa45"/>
<rect x="379.31" y="215.20" width="3.81" height="14.30" fill="#6e1b13"/>
<rect x="383.12" y="215.20" width="3.81" height="14.30" fill="#6eaa45"/>
<rect x="386.93" y="215.20" width="3.81" height="14.30" fill="#89b538"/>
<rect x="390.74" y="215.20" width="3.81" height="14.30" fill="#561e16"/>
<rect x="394.55" y="215.20" width="7.62" height="14.30" fill="#5a9a43"/>
<rect x="402.17" y="215.20" width="3.81" height="14.30" fill="#561e16"/>
<rect x="405.98" y="215.20" width="3.81" height="14.30" fill="#89b538"/>
<rect x="409.79" y="215.20" width="7.62" height="14.30" fill="#5a9a43"/>
<rect x="417.41" y="215.20" width="7.62" height="14.30" fill="#89b538"/>
<rect x="425.04" y="215.20" width="3.81" height="14.30" fill="#5a9a43"/>
<rect x="428.85" y="215.20" width="3.81" height="14.30" fill="#467d3c"/>
<rect x="432.66" y="215.20" width="3.81" height="14.30" fill="#5a9a43"/>
<rect x="436.47" y="215.20" width="7.62" height="14.30" fill="#89b538"/>
<rect x="447.90" y="215.20" width="7.62" height="14.30" fill="#89b538"/>
<rect x="459.33" y="215.20" width="3.81" height="14.30" fill="#5a9a43"/>
<rect x="463.14" y="215.20" width="7.62" height="14.30" fill="#89b538"/>
<rect x="470.76" y="215.20" width="7.62" height="14.30" fill="#5a9a43"/>
<rect x="478.38" y="215.20" width="3.81" height="14.30" fill="#561e16"/>
<rect x="482.19" y="215.20" width="3.81" height="14.30" fill="#89b538"/>
<rect x="78.30" y="229.50" width="3.81" height="14.30" fill="#6e1b13"/>
<rect x="82.11" y="229.50" width="3.81" height="14.30" fill="#561e16"/>
<rect x="85.92" y="229.50" width="3.81" height="14.30" fill="#6e1b13"/>
<rect x="89.73" y="229.50" width="3.81" height="14.30" fill="#561e16"/>
<rect x="93.54" y="229.50" width="3.81" height="14.30" fill="#467d3c"/>
<rect x="97.35" y="229.50" width="3.81" height="14.30" fill="#561e16"/>
<rect x="101.16" y="229.50" width="3.81" height="14.30" fill="#6e1b13"/>
<rect x="104.97" y="229.50" width="3.81" height="14.30" fill="#561e16"/>
<rect x="108.78" y="229.50" width="3.81" height="14.30" fill="#6e1b13"/>
<rect x="112.59" y="229.50" width="3.81" height="14.30" fill="#561e16"/>
<rect x="116.40" y="229.50" width="3.81" height="14.30" fill="#6e1b13"/>
<rect x="120.21" y="229.50" width="3.81" height="14.30" fill="#467d3c"/>
<rect x="124.02" y="229.50" width="3.81" height="14.30" fill="#561e16"/>
<rect x="127.83" y="229.50" width="3.81" height="14.30" fill="#6e1b13"/>
<rect x="131.64" y="229.50" width="3.81" height="14.30" fill="#561e16"/>
<rect x="135.45" y="229.50" width="3.81" height="14.30" fill="#6e1b13"/>
<rect x="139.26" y="229.50" width="7.62" height="14.30" fill="#5a9a43"/>
<rect x="154.51" y="229.50" width="3.81" height="14.30" fill="#6e1b13"/>
<rect x="158.32" y="229.50" width="3.81" height="14.30" fill="#561e16"/>
<rect x="162.13" y="229.50" width="3.81" height="14.30" fill="#6e1b13"/>
<rect x="165.94" y="229.50" width="3.81" height="14.30" fill="#561e16"/>
<rect x="169.75" y="229.50" width="3.81" height="14.30" fill="#6e1b13"/>
<rect x="173.56" y="229.50" width="3.81" height="14.30" fill="#561e16"/>
<rect x="177.37" y="229.50" width="3.81" height="14.30" fill="#6e1b13"/>
<rect x="181.18" y="229.50" width="11.43" height="14.30" fill="#561e16"/>
<rect x="192.61" y="229.50" width="7.62" height="14.30" fill="#467d3c"/>
<rect x="204.04" y="229.50" width="3.81" height="14.30" fill="#561e16"/>
<rect x="211.66" y="229.50" width="3.81" height="14.30" fill="#561e16"/>
<rect x="215.47" y="229.50" width="3.81" height="14.30" fill="#467d3c"/>
<rect x="219.28" y="229.50" width="3.81" height="14.30" fill="#561e16"/>
<rect x="226.90" y="229.50" width="3.81" height="14.30" fill="#561e16"/>
<rect x="234.52" y="229.50" width="7.62" height="14.30" fill="#561e16"/>
<rect x="245.95" y="229.50" width="3.81" height="14.30" fill="#467d3c"/>
<rect x="253.57" y="229.50" width="3.81" height="14.30" fill="#561e16"/>
<rect x="257.38" y="229.50" width="7.62" height="14.30" fill="#467d3c"/>
<rect x="272.62" y="229.50" width="3.81" height="14.30" fill="#561e16"/>
<rect x="280.24" y="229.50" width="3.81" height="14.30" fill="#561e16"/>
<rect x="287.87" y="229.50" width="3.81" height="14.30" fill="#561e16"/>
<rect x="291.68" y="229.50" width="3.81" height="14.30" fill="#467d3c"/>
<rect x="303.11" y="229.50" width="3.81" height="14.30" fill="#561e16"/>
<rect x="310.73" y="229.50" width="3.81" height="14.30" fill="#467d3c"/>
<rect x="325.97" y="229.50" width="3.81" height="14.30" fill="#561e16"/>
<rect x="333.59" y="229.50" width="3.81" height="14.30" fill="#561e16"/>
<rect x="337.40" y="229.50" width="3.81" height="14.30" fill="#467d3c"/>
<rect x="348.83" y="229.50" width="3.81" height="14.30" fill="#561e16"/>
<rect x="360.26" y="229.50" width="3.81" height="14.30" fill="#5a9a43"/>
<rect x="367.88" y="229.50" width="3.81" height="14.30" fill="#561e16"/>
<rect x="371.69" y="229.50" width="7.62" height="14.30" fill="#5a9a43"/>
<rect x="383.12" y="229.50" width="7.62" height="14.30" fill="#561e16"/>
<rect x="390.74" y="229.50" width="3.81" height="14.30" fill="#3f6834"/>
<rect x="398.36" y="229.50" width="3.81" height="14.30" fill="#467d3c"/>
<rect x="409.79" y="229.50" width="7.62" height="14.30" fill="#3f6834"/>
<rect x="417.41" y="229.50" width="7.62" height="14.30" fill="#5a9a43"/>
<rect x="425.04" y="229.50" width="3.81" height="14.30" fill="#467d3c"/>
<rect x="428.85" y="229.50" width="3.81" height="14.30" fill="#561e16"/>
<rect x="432.66" y="229.50" width="7.62" height="14.30" fill="#3f6834"/>
<rect x="440.28" y="229.50" width="3.81" height="14.30" fill="#467d3c"/>
<rect x="444.09" y="229.50" width="15.24" height="14.30" fill="#3f6834"/>
<rect x="463.14" y="229.50" width="11.43" height="14.30" fill="#3f6834"/>
<rect x="474.57" y="229.50" width="3.81" height="14.30" fill="#467d3c"/>
<rect x="478.38" y="229.50" width="7.62" height="14.30" fill="#3f6834"/>
<rect x="78.30" y="243.80" width="7.62" height="14.30" fill="#6e1b13"/>
<rect x="85.92" y="243.80" width="3.81" height="14.30" fill="#561e16"/>
<rect x="89.73" y="243.80" width="3.81" height="14.30" fill="#467d3c"/>
<rect x="97.35" y="243.80" width="7.62" height="14.30" fill="#9a1918"/>
<rect x="104.97" y="243.80" width="3.81" height="14.30" fill="#6e1b13"/>
<rect x="108.78" y="243.80" width="7.62" height="14.30" fill="#561e16"/>
<rect x="116.40" y="243.80" width="3.81" height="14.30" fill="#6eaa45"/>
<rect x="120.21" y="243.80" width="3.81" height="14.30" fill="#6e1b13"/>
<rect x="124.02" y="243.80" width="3.81" height="14.30" fill="#561e16"/>
<rect x="131.64" y="243.80" width="3.81" height="14.30" fill="#5a9a43"/>
<rect x="135.45" y="243.80" width="3.81" height="14.30" fill="#561e16"/>
<rect x="143.07" y="243.80" width="3.81" height="14.30" fill="#6e1b13"/>
<rect x="146.89" y="243.80" width="3.81" height="14.30" fill="#561e16"/>
<rect x="150.70" y="243.80" width="3.81" height="14.30" fill="#6e1b13"/>
<rect x="154.51" y="243.80" width="3.81" height="14.30" fill="#561e16"/>
<rect x="158.32" y="243.80" width="7.62" height="14.30" fill="#5a9a43"/>
<rect x="165.94" y="243.80" width="3.81" height="14.30" fill="#6e1b13"/>
<rect x="169.75" y="243.80" width="3.81" height="14.30" fill="#561e16"/>
<rect x="173.56" y="243.80" width="7.62" height="14.30" fill="#6e1b13"/>
<rect x="181.18" y="243.80" width="11.43" height="14.30" fill="#561e16"/>
<rect x="192.61" y="243.80" width="3.81" height="14.30" fill="#467d3c"/>
<rect x="200.23" y="243.80" width="3.81" height="14.30" fill="#561e16"/>
<rect x="207.85" y="243.80" width="3.81" height="14.30" fill="#561e16"/>
<rect x="211.66" y="243.80" width="3.81" height="14.30" fill="#6e1b13"/>
<rect x="219.28" y="243.80" width="3.81" height="14.30" fill="#561e16"/>
<rect x="226.90" y="243.80" width="3.81" height="14.30" fill="#467d3c"/>
<rect x="230.71" y="243.80" width="3.81" height="14.30" fill="#9a1918"/>
<rect x="234.52" y="243.80" width="3.81" height="14.30" fill="#561e16"/>
<rect x="238.33" y="243.80" width="3.81" height="14.30" fill="#5a9a43"/>
<rect x="245.95" y="243.80" width="3.81" height="14.30" fill="#467d3c"/>
<rect x="249.76" y="243.80" width="3.81" height="14.30" fill="#6e1b13"/>
<rect x="253.57" y="243.80" width="3.81" height="14.30" fill="#561e16"/>
<rect x="257.38" y="243.80" width="3.81" height="14.30" fill="#467d3c"/>
<rect x="265.00" y="243.80" width="7.62" height="14.30" fill="#561e16"/>
<rect x="276.43" y="243.80" width="3.81" height="14.30" fill="#5a9a43"/>
<rect x="284.06" y="243.80" width="3.81" height="14.30" fill="#561e16"/>
<rect x="287.87" y="243.80" width="3.81" height="14.30" fill="#467d3c"/>
<rect x="295.49" y="243.80" width="3.81" height="14.30" fill="#561e16"/>
<rect x="299.30" y="243.80" width="3.81" height="14.30" fill="#5a9a43"/>
<rect x="306.92" y="243.80" width="3.81" height="14.30" fill="#6e1b13"/>
<rect x="310.73" y="243.80" width="3.81" height="14.30" fill="#467d3c"/>
<rect x="318.35" y="243.80" width="11.43" height="14.30" fill="#6e1b13"/>
<rect x="333.59" y="243.80" width="7.62" height="14.30" fill="#467d3c"/>
<rect x="341.21" y="243.80" width="3.81" height="14.30" fill="#561e16"/>
<rect x="348.83" y="243.80" width="7.62" height="14.30" fill="#6e1b13"/>
<rect x="356.45" y="243.80" width="3.81" height="14.30" fill="#467d3c"/>
<rect x="360.26" y="243.80" width="3.81" height="14.30" fill="#561e16"/>
<rect x="364.07" y="243.80" width="3.81" height="14.30" fill="#5a9a43"/>
<rect x="371.69" y="243.80" width="7.62" height="14.30" fill="#467d3c"/>
<rect x="379.31" y="243.80" width="3.81" height="14.30" fill="#5a9a43"/>
<rect x="383.12" y="243.80" width="3.81" height="14.30" fill="#561e16"/>
<rect x="386.93" y="243.80" width="7.62" height="14.30" fill="#5a9a43"/>
<rect x="398.36" y="243.80" width="3.81" height="14.30" fill="#467d3c"/>
<rect x="409.79" y="243.80" width="3.81" height="14.30" fill="#467d3c"/>
<rect x="425.04" y="243.80" width="7.62" height="14.30" fill="#467d3c"/>
<rect x="436.47" y="243.80" width="3.81" height="14.30" fill="#467d3c"/>
<rect x="440.28" y="243.80" width="3.81" height="14.30" fill="#5a9a43"/>
<rect x="444.09" y="243.80" width="3.81" height="14.30" fill="#467d3c"/>
<rect x="447.90" y="243.80" width="11.43" height="14.30" fill="#3f6834"/>
<rect x="459.33" y="243.80" width="3.81" height="14.30" fill="#467d3c"/>
<rect x="463.14" y="243.80" width="7.62" height="14.30" fill="#5a9a43"/>
<rect x="470.76" y="243.80" width="7.62" height="14.30" fill="#467d3c"/>
<rect x="482.19" y="243.80" width="3.81" height="14.30" fill="#467d3c"/>
<rect x="82.11" y="258.10" width="3.81" height="14.30" fill="#561e16"/>
<rect x="120.21" y="258.10" width="7.62" height="14.30" fill="#561e16"/>
<rect x="127.83" y="258.10" width="3.81" height="14.30" fill="#6e1b13"/>
<rect x="135.45" y="258.10" width="3.81" height="14.30" fill="#561e16"/>
<rect x="146.89" y="258.10" width="3.81" height="14.30" fill="#561e16"/>
<rect x="173.56" y="258.10" width="7.62" height="14.30" fill="#561e16"/>
<rect x="184.99" y="258.10" width="3.81" height="14.30" fill="#561e16"/>
<rect x="211.66" y="258.10" width="3.81" height="14.30" fill="#561e16"/>
<rect x="257.38" y="258.10" width="3.81" height="14.30" fill="#561e16"/>
<rect x="261.19" y="258.10" width="3.81" height="14.30" fill="#467d3c"/>
<rect x="268.81" y="258.10" width="3.81" height="14.30" fill="#561e16"/>
<rect x="280.24" y="258.10" width="3.81" height="14.30" fill="#561e16"/>
<rect x="299.30" y="258.10" width="3.81" height="14.30" fill="#561e16"/>
<rect x="322.16" y="258.10" width="3.81" height="14.30" fill="#467d3c"/>
<rect x="333.59" y="258.10" width="3.81" height="14.30" fill="#467d3c"/>
<rect x="337.40" y="258.10" width="3.81" height="14.30" fill="#561e16"/>
<rect x="360.26" y="258.10" width="3.81" height="14.30" fill="#561e16"/>
<rect x="367.88" y="258.10" width="3.81" height="14.30" fill="#467d3c"/>
<rect x="375.50" y="258.10" width="3.81" height="14.30" fill="#561e16"/>
<rect x="405.98" y="258.10" width="7.62" height="14.30" fill="#467d3c"/>
<rect x="421.23" y="258.10" width="7.62" height="14.30" fill="#467d3c"/>
<rect x="444.09" y="258.10" width="3.81" height="14.30" fill="#467d3c"/>
<rect x="451.71" y="258.10" width="7.62" height="14.30" fill="#467d3c"/>
<rect x="463.14" y="258.10" width="11.43" height="14.30" fill="#467d3c"/>
<rect x="478.38" y="258.10" width="7.62" height="14.30" fill="#467d3c"/>
<rect x="78.30" y="272.40" width="3.81" height="14.30" fill="#6e1b13"/>
<rect x="82.11" y="272.40" width="3.81" height="14.30" fill="#561e16"/>
<rect x="85.92" y="272.40" width="3.81" height="14.30" fill="#6e1b13"/>
<rect x="89.73" y="272.40" width="7.62" height="14.30" fill="#561e16"/>
<rect x="97.35" y="272.40" width="3.81" height="14.30" fill="#6e1b13"/>
<rect x="101.16" y="272.40" width="7.62" height="14.30" fill="#561e16"/>
<rect x="108.78" y="272.40" width="3.81" height="14.30" fill="#467d3c"/>
<rect x="112.59" y="272.40" width="7.62" height="14.30" fill="#561e16"/>
<rect x="120.21" y="272.40" width="3.81" height="14.30" fill="#6e1b13"/>
<rect x="124.02" y="272.40" width="41.91" height="14.30" fill="#561e16"/>
<rect x="165.94" y="272.40" width="3.81" height="14.30" fill="#467d3c"/>
<rect x="169.75" y="272.40" width="7.62" height="14.30" fill="#561e16"/>
<rect x="177.37" y="272.40" width="7.62" height="14.30" fill="#467d3c"/>
<rect x="192.61" y="272.40" width="3.81" height="14.30" fill="#561e16"/>
<rect x="196.42" y="272.40" width="3.81" height="14.30" fill="#6e1b13"/>
<rect x="200.23" y="272.40" width="3.81" height="14.30" fill="#561e16"/>
<rect x="207.85" y="272.40" width="11.43" height="14.30" fill="#561e16"/>
<rect x="223.09" y="272.40" width="11.43" height="14.30" fill="#6e1b13"/>
<rect x="238.33" y="272.40" width="3.81" height="14.30" fill="#561e16"/>
<rect x="245.95" y="272.40" width="7.62" height="14.30" fill="#561e16"/>
<rect x="257.38" y="272.40" width="3.81" height="14.30" fill="#561e16"/>
<rect x="261.19" y="272.40" width="3.81" height="14.30" fill="#467d3c"/>
<rect x="268.81" y="272.40" width="7.62" height="14.30" fill="#561e16"/>
<rect x="280.24" y="272.40" width="3.81" height="14.30" fill="#561e16"/>
<rect x="287.87" y="272.40" width="3.81" height="14.30" fill="#561e16"/>
<rect x="303.11" y="272.40" width="3.81" height="14.30" fill="#561e16"/>
<rect x="306.92" y="272.40" width="3.81" height="14.30" fill="#467d3c"/>
<rect x="310.73" y="272.40" width="3.81" height="14.30" fill="#561e16"/>
<rect x="322.16" y="272.40" width="3.81" height="14.30" fill="#467d3c"/>
<rect x="325.97" y="272.40" width="3.81" height="14.30" fill="#561e16"/>
<rect x="337.40" y="272.40" width="3.81" height="14.30" fill="#561e16"/>
<rect x="345.02" y="272.40" width="3.81" height="14.30" fill="#561e16"/>
<rect x="356.45" y="272.40" width="3.81" height="14.30" fill="#5a9a43"/>
<rect x="360.26" y="272.40" width="3.81" height="14.30" fill="#6eaa45"/>
<rect x="364.07" y="272.40" width="3.81" height="14.30" fill="#561e16"/>
<rect x="375.50" y="272.40" width="3.81" height="14.30" fill="#467d3c"/>
<rect x="379.31" y="272.40" width="3.81" height="14.30" fill="#561e16"/>
<rect x="386.93" y="272.40" width="3.81" height="14.30" fill="#561e16"/>
<rect x="405.98" y="272.40" width="7.62" height="14.30" fill="#467d3c"/>
<rect x="421.23" y="272.40" width="11.43" height="14.30" fill="#6eaa45"/>
<rect x="432.66" y="272.40" width="7.62" height="14.30" fill="#5a9a43"/>
<rect x="440.28" y="272.40" width="3.81" height="14.30" fill="#467d3c"/>
<rect x="447.90" y="272.40" width="3.81" height="14.30" fill="#5a9a43"/>
<rect x="451.71" y="272.40" width="19.05" height="14.30" fill="#6eaa45"/>
<rect x="470.76" y="272.40" width="3.81" height="14.30" fill="#5a9a43"/>
<rect x="474.57" y="272.40" width="3.81" height="14.30" fill="#6eaa45"/>
<rect x="478.38" y="272.40" width="7.62" height="14.30" fill="#467d3c"/>
<rect x="78.30" y="286.70" width="22.86" height="14.30" fill="#561e16"/>
<rect x="101.16" y="286.70" width="3.81" height="14.30" fill="#467d3c"/>
<rect x="104.97" y="286.70" width="11.43" height="14.30" fill="#561e16"/>
<rect x="120.21" y="286.70" width="22.86" height="14.30" fill="#561e16"/>
<rect x="146.89" y="286.70" width="3.81" height="14.30" fill="#561e16"/>
<rect x="154.51" y="286.70" width="3.81" height="14.30" fill="#561e16"/>
<rect x="162.13" y="286.70" width="19.05" height="14.30" fill="#561e16"/>
<rect x="188.80" y="286.70" width="7.62" height="14.30" fill="#561e16"/>
<rect x="204.04" y="286.70" width="11.43" height="14.30" fill="#561e16"/>
<rect x="219.28" y="286.70" width="15.24" height="14.30" fill="#561e16"/>
<rect x="238.33" y="286.70" width="3.81" height="14.30" fill="#467d3c"/>
<rect x="245.95" y="286.70" width="7.62" height="14.30" fill="#561e16"/>
<rect x="257.38" y="286.70" width="3.81" height="14.30" fill="#561e16"/>
<rect x="265.00" y="286.70" width="3.81" height="14.30" fill="#561e16"/>
<rect x="272.62" y="286.70" width="7.62" height="14.30" fill="#561e16"/>
<rect x="303.11" y="286.70" width="3.81" height="14.30" fill="#561e16"/>
<rect x="310.73" y="286.70" width="3.81" height="14.30" fill="#561e16"/>
<rect x="314.54" y="286.70" width="3.81" height="14.30" fill="#467d3c"/>
<rect x="322.16" y="286.70" width="3.81" height="14.30" fill="#5a9a43"/>
<rect x="325.97" y="286.70" width="3.81" height="14.30" fill="#467d3c"/>
<rect x="337.40" y="286.70" width="3.81" height="14.30" fill="#561e16"/>
<rect x="348.83" y="286.70" width="3.81" height="14.30" fill="#467d3c"/>
<rect x="356.45" y="286.70" width="3.81" height="14.30" fill="#561e16"/>
<rect x="364.07" y="286.70" width="3.81" height="14.30" fill="#467d3c"/>
<rect x="375.50" y="286.70" width="3.81" height="14.30" fill="#561e16"/>
<rect x="383.12" y="286.70" width="3.81" height="14.30" fill="#467d3c"/>
<rect x="386.93" y="286.70" width="3.81" height="14.30" fill="#561e16"/>
<rect x="398.36" y="286.70" width="22.86" height="14.30" fill="#467d3c"/>
<rect x="421.23" y="286.70" width="11.43" height="14.30" fill="#5a9a43"/>
<rect x="436.47" y="286.70" width="7.62" height="14.30" fill="#467d3c"/>
<rect x="447.90" y="286.70" width="38.10" height="14.30" fill="#467d3c"/>
</g>
<rect x="491.9" y="51.70" width="13.9" height="15.99" fill="#cf1519"/>
<rect x="491.9" y="67.39" width="13.9" height="15.99" fill="#cc1519"/>
<rect x="491.9" y="83.08" width="13.9" height="15.99" fill="#b31a1b"/>
<rect x="491.9" y="98.78" width="13.9" height="15.99" fill="#981c1a"/>
<rect x="491.9" y="114.47" width="13.9" height="15.99" fill="#7a1e19"/>
<rect x="491.9" y="130.16" width="13.9" height="15.99" fill="#5a1f17"/>
<rect x="491.9" y="145.85" width="13.9" height="15.99" fill="#080808"/>
<rect x="491.9" y="161.55" width="13.9" height="15.99" fill="#3c5e34"/>
<rect x="491.9" y="177.24" width="13.9" height="15.99" fill="#3f7d46"/>
<rect x="491.9" y="192.93" width="13.9" height="15.99" fill="#4f9a4c"/>
<rect x="491.9" y="208.62" width="13.9" height="15.99" fill="#62a443"/>
<rect x="491.9" y="224.32" width="13.9" height="15.99" fill="#7db22f"/>
<rect x="491.9" y="240.01" width="13.9" height="15.99" fill="#80b530"/>
<text transform="translate(517.6,255.2) rotate(-90)" font-size="13.2">Relative level of mRNA expression</text>
<rect x="78.3" y="306.2" width="326.20" height="9.4" fill="#da8714"/>
<rect x="404.5" y="306.2" width="15.30" height="9.4" fill="#458b40"/>
<rect x="419.8" y="306.2" width="66.20" height="9.4" fill="#5797cc"/>
<rect x="78.3" y="320.3" width="239.70" height="9.4" fill="#da8714"/>
<rect x="318" y="320.3" width="3.60" height="9.4" fill="#5797cc"/>
<rect x="321.6" y="320.3" width="22.70" height="9.4" fill="#da8714"/>
<rect x="344.3" y="320.3" width="3.70" height="9.4" fill="#5797cc"/>
<rect x="348" y="320.3" width="8.00" height="9.4" fill="#da8714"/>
<rect x="356" y="320.3" width="3.60" height="9.4" fill="#5797cc"/>
<rect x="359.6" y="320.3" width="30.70" height="9.4" fill="#da8714"/>
<rect x="390.3" y="320.3" width="3.70" height="9.4" fill="#5797cc"/>
<rect x="394" y="320.3" width="15.20" height="9.4" fill="#da8714"/>
<rect x="409.2" y="320.3" width="6.80" height="9.4" fill="#5797cc"/>
<rect x="416" y="320.3" width="15.70" height="9.4" fill="#da8714"/>
<rect x="435.7" y="320.3" width="4.30" height="9.4" fill="#da8714"/>
<rect x="440" y="320.3" width="46.00" height="9.4" fill="#5797cc"/>
<text x="486.8" y="314.8" font-size="13.5">L2Cx</text>
<text x="486.8" y="329.7" font-size="13.5">Hans</text>
<rect x="191.3" y="345.4" width="7.4" height="9.1" fill="#da8714"/>
<text x="204.3" y="353.9" font-size="13">GCB</text>
<rect x="244.2" y="345.4" width="7.4" height="9.1" fill="#458b40"/>
<text x="257.2" y="353.9" font-size="13">Unclassified</text>
<rect x="335.5" y="345.4" width="7.4" height="9.1" fill="#5797cc"/>
<text x="348.5" y="353.9" font-size="13">ABC</text>
<text x="4.8" y="378.6" font-size="18" font-weight="bold">B</text>
<text x="95" y="392.2" font-size="17.5" font-weight="bold">TFL</text>
<text x="293.3" y="391.6" font-size="17.8" font-weight="bold"><tspan font-style="italic">De novo</tspan> DLBCL</text>
<path d="M110.8,451.9 L110.80,400.50 A51.4,51.4 0 0 1 154.20,424.36 Z" fill="#5797cc"/>
<path d="M110.8,451.9 L154.20,424.36 A51.4,51.4 0 1 1 98.02,402.11 Z" fill="#da8714"/>
<path d="M110.8,451.9 L98.02,402.11 A51.4,51.4 0 0 1 110.80,400.50 Z" fill="#546a2c"/>
<path d="M365.7,452.1 L365.70,400.80 A51.3,51.3 0 0 1 412.12,473.94 Z" fill="#5797cc"/>
<path d="M365.7,452.1 L412.12,473.94 A51.3,51.3 0 1 1 330.58,414.70 Z" fill="#da8714"/>
<path d="M365.7,452.1 L330.58,414.70 A51.3,51.3 0 0 1 365.70,400.80 Z" fill="#546a2c"/>
<text x="115.6" y="427.4" font-size="13.3" font-weight="bold" fill="#111">16%</text>
<text x="97.0" y="473.1" font-size="13.3" font-weight="bold" fill="#111">80%</text>
<text x="374.5" y="440.8" font-size="13.3" font-weight="bold" fill="#111">32%</text>
<text x="340.5" y="473.5" font-size="13.3" font-weight="bold" fill="#111">56%</text>
<rect x="196.6" y="426.6" width="12.1" height="11.7" fill="#da8714"/>
<text x="213.2" y="435.8" font-size="13.1">GCB</text>
<rect x="196.6" y="445.3" width="12.1" height="11.7" fill="#5797cc"/>
<text x="213.2" y="454.5" font-size="13.1">ABC</text>
<rect x="196.6" y="463.7" width="12.1" height="11.7" fill="#546a2c"/>
<text x="213.2" y="472.9" font-size="13.1">Unclassified</text>
<text x="4" y="526.4" font-size="18.5" font-weight="bold">C</text>
<rect x="36.8" y="534.6" width="367.6" height="136.9" fill="#e8e8e8"/>
<line x1="68.50" y1="534.6" x2="68.50" y2="671.5" stroke="#f3f3f3" stroke-width="0.9"/>
<line x1="192.50" y1="534.6" x2="192.50" y2="671.5" stroke="#f3f3f3" stroke-width="0.9"/>
<line x1="316.50" y1="534.6" x2="316.50" y2="671.5" stroke="#f3f3f3" stroke-width="0.9"/>
<line x1="36.8" y1="550.9" x2="404.4" y2="550.9" stroke="#f3f3f3" stroke-width="0.9"/>
<line x1="36.8" y1="583.6" x2="404.4" y2="583.6" stroke="#f3f3f3" stroke-width="0.9"/>
<line x1="36.8" y1="616.3" x2="404.4" y2="616.3" stroke="#f3f3f3" stroke-width="0.9"/>
<line x1="36.8" y1="649.0" x2="404.4" y2="649.0" stroke="#f3f3f3" stroke-width="0.9"/>
<line x1="130.50" y1="534.6" x2="130.50" y2="671.5" stroke="#fff" stroke-width="1.8"/>
<line x1="254.50" y1="534.6" x2="254.50" y2="671.5" stroke="#fff" stroke-width="1.8"/>
<line x1="378.50" y1="534.6" x2="378.50" y2="671.5" stroke="#fff" stroke-width="1.8"/>
<line x1="36.8" y1="567.3" x2="404.4" y2="567.3" stroke="#fff" stroke-width="1.8"/>
<line x1="31.6" y1="567.3" x2="36.8" y2="567.3" stroke="#333" stroke-width="1.1"/>
<line x1="36.8" y1="600.0" x2="404.4" y2="600.0" stroke="#fff" stroke-width="1.8"/>
<line x1="31.6" y1="600.0" x2="36.8" y2="600.0" stroke="#333" stroke-width="1.1"/>
<line x1="36.8" y1="632.7" x2="404.4" y2="632.7" stroke="#fff" stroke-width="1.8"/>
<line x1="31.6" y1="632.7" x2="36.8" y2="632.7" stroke="#333" stroke-width="1.1"/>
<line x1="36.8" y1="665.4" x2="404.4" y2="665.4" stroke="#fff" stroke-width="1.8"/>
<line x1="31.6" y1="665.4" x2="36.8" y2="665.4" stroke="#333" stroke-width="1.1"/>
<line x1="130.50" y1="671.5" x2="130.50" y2="676" stroke="#333" stroke-width="1.1"/>
<text x="130.50" y="688.6" font-size="12.8" fill="#4d4d4d" text-anchor="middle">0</text>
<line x1="254.50" y1="671.5" x2="254.50" y2="676" stroke="#333" stroke-width="1.1"/>
<text x="254.50" y="688.6" font-size="12.8" fill="#4d4d4d" text-anchor="middle">2000</text>
<line x1="378.50" y1="671.5" x2="378.50" y2="676" stroke="#333" stroke-width="1.1"/>
<text x="378.50" y="688.6" font-size="12.8" fill="#4d4d4d" text-anchor="middle">4000</text>
<text transform="translate(21.9,607.1) rotate(-90)" font-size="13.3" text-anchor="middle">density</text>
<defs>
<clipPath id="cDG"><path d="M53.20,665.4 L53.20,664.40 C56.83,663.75 68.03,662.48 75.00,660.50 C81.97,658.52 89.17,655.50 95.00,652.50 C100.83,649.50 105.83,645.95 110.00,642.50 C114.17,639.05 117.33,634.88 120.00,631.80 C122.67,628.72 124.17,626.55 126.00,624.00 C127.83,621.45 128.92,619.17 131.00,616.50 C133.08,613.83 136.17,610.12 138.50,608.00 C140.83,605.88 142.70,604.80 145.00,603.80 C147.30,602.80 149.80,602.13 152.30,602.00 C154.80,601.87 157.05,602.25 160.00,603.00 C162.95,603.75 166.42,605.22 170.00,606.50 C173.58,607.78 177.67,609.35 181.50,610.70 C185.33,612.05 189.15,613.02 193.00,614.60 C196.85,616.18 201.13,618.38 204.60,620.20 C208.07,622.02 210.73,623.37 213.80,625.50 C216.87,627.63 219.92,630.25 223.00,633.00 C226.08,635.75 229.22,639.20 232.30,642.00 C235.38,644.80 238.42,647.58 241.50,649.80 C244.58,652.02 247.72,653.73 250.80,655.30 C253.88,656.87 256.93,658.08 260.00,659.20 C263.07,660.32 265.73,661.22 269.20,662.00 C272.67,662.78 276.50,663.38 280.80,663.90 C285.10,664.42 289.30,664.85 295.00,665.10 C300.70,665.35 299.53,665.35 315.00,665.40 C330.47,665.45 375.67,665.40 387.80,665.40 L387.80,665.4 Z"/></clipPath>
<clipPath id="cDA"><path d="M53.20,665.4 L53.20,665.40 C83.50,665.40 202.20,665.48 235.00,665.40 C267.80,665.32 246.50,665.30 250.00,664.90 C253.50,664.50 254.02,664.07 256.00,663.00 C257.98,661.93 260.02,661.08 261.90,658.50 C263.78,655.92 265.37,651.48 267.30,647.50 C269.23,643.52 271.45,638.80 273.50,634.60 C275.55,630.40 277.62,626.23 279.60,622.30 C281.58,618.37 283.70,613.78 285.40,611.00 C287.10,608.22 288.27,606.98 289.80,605.60 C291.33,604.22 293.00,603.50 294.60,602.70 C296.20,601.90 297.80,601.60 299.40,600.80 C301.00,600.00 302.43,599.18 304.20,597.90 C305.97,596.62 308.07,594.78 310.00,593.10 C311.93,591.42 314.03,589.25 315.80,587.80 C317.57,586.35 319.00,585.28 320.60,584.40 C322.20,583.52 323.80,582.83 325.40,582.50 C327.00,582.17 328.60,582.27 330.20,582.40 C331.80,582.53 333.43,582.62 335.00,583.30 C336.57,583.98 338.07,585.00 339.60,586.50 C341.13,588.00 342.80,590.25 344.20,592.30 C345.60,594.35 346.65,596.10 348.00,598.80 C349.35,601.50 350.97,605.45 352.30,608.50 C353.63,611.55 354.77,614.38 356.00,617.10 C357.23,619.82 358.27,621.92 359.70,624.80 C361.13,627.68 363.17,631.77 364.60,634.40 C366.03,637.03 367.07,638.80 368.30,640.60 C369.53,642.40 370.77,644.10 372.00,645.20 C373.23,646.30 374.03,646.68 375.70,647.20 C377.37,647.72 379.98,648.00 382.00,648.30 C384.02,648.60 386.83,648.88 387.80,649.00 L387.80,665.4 Z"/></clipPath>
<clipPath id="cTG"><path d="M53.20,665.4 L53.20,656.30 C56.00,655.50 63.87,653.38 70.00,651.50 C76.13,649.62 85.00,646.78 90.00,645.00 C95.00,643.22 96.67,642.30 100.00,640.80 C103.33,639.30 106.67,637.60 110.00,636.00 C113.33,634.40 116.67,632.78 120.00,631.20 C123.33,629.62 126.92,627.98 130.00,626.50 C133.08,625.02 135.83,623.55 138.50,622.30 C141.17,621.05 143.45,619.92 146.00,619.00 C148.55,618.08 151.13,617.25 153.80,616.80 C156.47,616.35 159.30,616.28 162.00,616.30 C164.70,616.32 166.75,616.42 170.00,616.90 C173.25,617.38 177.67,618.43 181.50,619.20 C185.33,619.97 189.15,620.73 193.00,621.50 C196.85,622.27 200.77,623.07 204.60,623.80 C208.43,624.53 212.93,625.23 216.00,625.90 C219.07,626.57 220.28,626.42 223.00,627.80 C225.72,629.18 229.17,631.78 232.30,634.20 C235.43,636.62 238.72,639.78 241.80,642.30 C244.88,644.82 247.93,647.08 250.80,649.30 C253.67,651.52 255.93,653.67 259.00,655.60 C262.07,657.53 265.57,659.50 269.20,660.90 C272.83,662.30 277.00,663.30 280.80,664.00 C284.60,664.70 287.13,664.87 292.00,665.10 C296.87,665.33 294.03,665.35 310.00,665.40 C325.97,665.45 374.83,665.40 387.80,665.40 L387.80,665.4 Z"/></clipPath>
<clipPath id="cTA"><path d="M53.20,665.4 L53.20,665.40 C84.33,665.40 205.87,665.43 240.00,665.40 C274.13,665.37 254.00,665.33 258.00,665.20 C262.00,665.07 262.17,665.03 264.00,664.60 C265.83,664.17 267.58,663.62 269.00,662.60 C270.42,661.58 271.25,660.35 272.50,658.50 C273.75,656.65 274.80,655.22 276.50,651.50 C278.20,647.78 280.65,641.32 282.70,636.20 C284.75,631.08 287.30,624.67 288.80,620.80 C290.30,616.93 290.73,615.88 291.70,613.00 C292.67,610.12 293.63,606.33 294.60,603.50 C295.57,600.67 296.53,598.22 297.50,596.00 C298.47,593.78 299.28,591.82 300.40,590.20 C301.52,588.58 302.77,587.23 304.20,586.30 C305.63,585.37 307.55,585.27 309.00,584.60 C310.45,583.93 311.77,583.45 312.90,582.30 C314.03,581.15 314.87,579.50 315.80,577.70 C316.73,575.90 317.42,574.25 318.50,571.50 C319.58,568.75 321.08,564.85 322.30,561.20 C323.52,557.55 324.73,552.88 325.80,549.60 C326.87,546.32 327.75,543.27 328.70,541.50 C329.65,539.73 330.48,539.08 331.50,539.00 C332.52,538.92 333.83,539.80 334.80,541.00 C335.77,542.20 336.50,544.00 337.30,546.20 C338.10,548.40 338.83,551.32 339.60,554.20 C340.37,557.08 341.13,560.23 341.90,563.50 C342.67,566.77 343.43,570.15 344.20,573.80 C344.97,577.45 345.77,581.48 346.50,585.40 C347.23,589.32 347.85,593.25 348.60,597.30 C349.35,601.35 350.18,605.98 351.00,609.70 C351.82,613.42 352.57,616.10 353.50,619.60 C354.43,623.10 355.57,627.42 356.60,630.70 C357.63,633.98 358.57,636.77 359.70,639.30 C360.83,641.83 362.07,644.37 363.40,645.90 C364.73,647.43 366.27,648.18 367.70,648.50 C369.13,648.82 370.45,647.98 372.00,647.80 C373.55,647.62 375.33,647.37 377.00,647.40 C378.67,647.43 380.20,647.80 382.00,648.00 C383.80,648.20 386.83,648.50 387.80,648.60 L387.80,665.4 Z"/></clipPath>
</defs>
<path d="M53.20,665.4 L53.20,665.40 C83.50,665.40 202.20,665.48 235.00,665.40 C267.80,665.32 246.50,665.30 250.00,664.90 C253.50,664.50 254.02,664.07 256.00,663.00 C257.98,661.93 260.02,661.08 261.90,658.50 C263.78,655.92 265.37,651.48 267.30,647.50 C269.23,643.52 271.45,638.80 273.50,634.60 C275.55,630.40 277.62,626.23 279.60,622.30 C281.58,618.37 283.70,613.78 285.40,611.00 C287.10,608.22 288.27,606.98 289.80,605.60 C291.33,604.22 293.00,603.50 294.60,602.70 C296.20,601.90 297.80,601.60 299.40,600.80 C301.00,600.00 302.43,599.18 304.20,597.90 C305.97,596.62 308.07,594.78 310.00,593.10 C311.93,591.42 314.03,589.25 315.80,587.80 C317.57,586.35 319.00,585.28 320.60,584.40 C322.20,583.52 323.80,582.83 325.40,582.50 C327.00,582.17 328.60,582.27 330.20,582.40 C331.80,582.53 333.43,582.62 335.00,583.30 C336.57,583.98 338.07,585.00 339.60,586.50 C341.13,588.00 342.80,590.25 344.20,592.30 C345.60,594.35 346.65,596.10 348.00,598.80 C349.35,601.50 350.97,605.45 352.30,608.50 C353.63,611.55 354.77,614.38 356.00,617.10 C357.23,619.82 358.27,621.92 359.70,624.80 C361.13,627.68 363.17,631.77 364.60,634.40 C366.03,637.03 367.07,638.80 368.30,640.60 C369.53,642.40 370.77,644.10 372.00,645.20 C373.23,646.30 374.03,646.68 375.70,647.20 C377.37,647.72 379.98,648.00 382.00,648.30 C384.02,648.60 386.83,648.88 387.80,649.00 L387.80,665.4 Z" fill="#bfc4d7"/>
<path d="M53.20,665.4 L53.20,665.40 C84.33,665.40 205.87,665.43 240.00,665.40 C274.13,665.37 254.00,665.33 258.00,665.20 C262.00,665.07 262.17,665.03 264.00,664.60 C265.83,664.17 267.58,663.62 269.00,662.60 C270.42,661.58 271.25,660.35 272.50,658.50 C273.75,656.65 274.80,655.22 276.50,651.50 C278.20,647.78 280.65,641.32 282.70,636.20 C284.75,631.08 287.30,624.67 288.80,620.80 C290.30,616.93 290.73,615.88 291.70,613.00 C292.67,610.12 293.63,606.33 294.60,603.50 C295.57,600.67 296.53,598.22 297.50,596.00 C298.47,593.78 299.28,591.82 300.40,590.20 C301.52,588.58 302.77,587.23 304.20,586.30 C305.63,585.37 307.55,585.27 309.00,584.60 C310.45,583.93 311.77,583.45 312.90,582.30 C314.03,581.15 314.87,579.50 315.80,577.70 C316.73,575.90 317.42,574.25 318.50,571.50 C319.58,568.75 321.08,564.85 322.30,561.20 C323.52,557.55 324.73,552.88 325.80,549.60 C326.87,546.32 327.75,543.27 328.70,541.50 C329.65,539.73 330.48,539.08 331.50,539.00 C332.52,538.92 333.83,539.80 334.80,541.00 C335.77,542.20 336.50,544.00 337.30,546.20 C338.10,548.40 338.83,551.32 339.60,554.20 C340.37,557.08 341.13,560.23 341.90,563.50 C342.67,566.77 343.43,570.15 344.20,573.80 C344.97,577.45 345.77,581.48 346.50,585.40 C347.23,589.32 347.85,593.25 348.60,597.30 C349.35,601.35 350.18,605.98 351.00,609.70 C351.82,613.42 352.57,616.10 353.50,619.60 C354.43,623.10 355.57,627.42 356.60,630.70 C357.63,633.98 358.57,636.77 359.70,639.30 C360.83,641.83 362.07,644.37 363.40,645.90 C364.73,647.43 366.27,648.18 367.70,648.50 C369.13,648.82 370.45,647.98 372.00,647.80 C373.55,647.62 375.33,647.37 377.00,647.40 C378.67,647.43 380.20,647.80 382.00,648.00 C383.80,648.20 386.83,648.50 387.80,648.60 L387.80,665.4 Z" fill="#c5d5e8"/>
<path d="M53.20,665.4 L53.20,665.40 C84.33,665.40 205.87,665.43 240.00,665.40 C274.13,665.37 254.00,665.33 258.00,665.20 C262.00,665.07 262.17,665.03 264.00,664.60 C265.83,664.17 267.58,663.62 269.00,662.60 C270.42,661.58 271.25,660.35 272.50,658.50 C273.75,656.65 274.80,655.22 276.50,651.50 C278.20,647.78 280.65,641.32 282.70,636.20 C284.75,631.08 287.30,624.67 288.80,620.80 C290.30,616.93 290.73,615.88 291.70,613.00 C292.67,610.12 293.63,606.33 294.60,603.50 C295.57,600.67 296.53,598.22 297.50,596.00 C298.47,593.78 299.28,591.82 300.40,590.20 C301.52,588.58 302.77,587.23 304.20,586.30 C305.63,585.37 307.55,585.27 309.00,584.60 C310.45,583.93 311.77,583.45 312.90,582.30 C314.03,581.15 314.87,579.50 315.80,577.70 C316.73,575.90 317.42,574.25 318.50,571.50 C319.58,568.75 321.08,564.85 322.30,561.20 C323.52,557.55 324.73,552.88 325.80,549.60 C326.87,546.32 327.75,543.27 328.70,541.50 C329.65,539.73 330.48,539.08 331.50,539.00 C332.52,538.92 333.83,539.80 334.80,541.00 C335.77,542.20 336.50,544.00 337.30,546.20 C338.10,548.40 338.83,551.32 339.60,554.20 C340.37,557.08 341.13,560.23 341.90,563.50 C342.67,566.77 343.43,570.15 344.20,573.80 C344.97,577.45 345.77,581.48 346.50,585.40 C347.23,589.32 347.85,593.25 348.60,597.30 C349.35,601.35 350.18,605.98 351.00,609.70 C351.82,613.42 352.57,616.10 353.50,619.60 C354.43,623.10 355.57,627.42 356.60,630.70 C357.63,633.98 358.57,636.77 359.70,639.30 C360.83,641.83 362.07,644.37 363.40,645.90 C364.73,647.43 366.27,648.18 367.70,648.50 C369.13,648.82 370.45,647.98 372.00,647.80 C373.55,647.62 375.33,647.37 377.00,647.40 C378.67,647.43 380.20,647.80 382.00,648.00 C383.80,648.20 386.83,648.50 387.80,648.60 L387.80,665.4 Z" fill="#a5b9d4" clip-path="url(#cDA)"/>
<path d="M53.20,665.4 L53.20,664.40 C56.83,663.75 68.03,662.48 75.00,660.50 C81.97,658.52 89.17,655.50 95.00,652.50 C100.83,649.50 105.83,645.95 110.00,642.50 C114.17,639.05 117.33,634.88 120.00,631.80 C122.67,628.72 124.17,626.55 126.00,624.00 C127.83,621.45 128.92,619.17 131.00,616.50 C133.08,613.83 136.17,610.12 138.50,608.00 C140.83,605.88 142.70,604.80 145.00,603.80 C147.30,602.80 149.80,602.13 152.30,602.00 C154.80,601.87 157.05,602.25 160.00,603.00 C162.95,603.75 166.42,605.22 170.00,606.50 C173.58,607.78 177.67,609.35 181.50,610.70 C185.33,612.05 189.15,613.02 193.00,614.60 C196.85,616.18 201.13,618.38 204.60,620.20 C208.07,622.02 210.73,623.37 213.80,625.50 C216.87,627.63 219.92,630.25 223.00,633.00 C226.08,635.75 229.22,639.20 232.30,642.00 C235.38,644.80 238.42,647.58 241.50,649.80 C244.58,652.02 247.72,653.73 250.80,655.30 C253.88,656.87 256.93,658.08 260.00,659.20 C263.07,660.32 265.73,661.22 269.20,662.00 C272.67,662.78 276.50,663.38 280.80,663.90 C285.10,664.42 289.30,664.85 295.00,665.10 C300.70,665.35 299.53,665.35 315.00,665.40 C330.47,665.45 375.67,665.40 387.80,665.40 L387.80,665.4 Z" fill="#c8b7a0"/>
<path d="M53.20,665.4 L53.20,656.30 C56.00,655.50 63.87,653.38 70.00,651.50 C76.13,649.62 85.00,646.78 90.00,645.00 C95.00,643.22 96.67,642.30 100.00,640.80 C103.33,639.30 106.67,637.60 110.00,636.00 C113.33,634.40 116.67,632.78 120.00,631.20 C123.33,629.62 126.92,627.98 130.00,626.50 C133.08,625.02 135.83,623.55 138.50,622.30 C141.17,621.05 143.45,619.92 146.00,619.00 C148.55,618.08 151.13,617.25 153.80,616.80 C156.47,616.35 159.30,616.28 162.00,616.30 C164.70,616.32 166.75,616.42 170.00,616.90 C173.25,617.38 177.67,618.43 181.50,619.20 C185.33,619.97 189.15,620.73 193.00,621.50 C196.85,622.27 200.77,623.07 204.60,623.80 C208.43,624.53 212.93,625.23 216.00,625.90 C219.07,626.57 220.28,626.42 223.00,627.80 C225.72,629.18 229.17,631.78 232.30,634.20 C235.43,636.62 238.72,639.78 241.80,642.30 C244.88,644.82 247.93,647.08 250.80,649.30 C253.67,651.52 255.93,653.67 259.00,655.60 C262.07,657.53 265.57,659.50 269.20,660.90 C272.83,662.30 277.00,663.30 280.80,664.00 C284.60,664.70 287.13,664.87 292.00,665.10 C296.87,665.33 294.03,665.35 310.00,665.40 C325.97,665.45 374.83,665.40 387.80,665.40 L387.80,665.4 Z" fill="#ebd5b4"/>
<path d="M53.20,665.4 L53.20,656.30 C56.00,655.50 63.87,653.38 70.00,651.50 C76.13,649.62 85.00,646.78 90.00,645.00 C95.00,643.22 96.67,642.30 100.00,640.80 C103.33,639.30 106.67,637.60 110.00,636.00 C113.33,634.40 116.67,632.78 120.00,631.20 C123.33,629.62 126.92,627.98 130.00,626.50 C133.08,625.02 135.83,623.55 138.50,622.30 C141.17,621.05 143.45,619.92 146.00,619.00 C148.55,618.08 151.13,617.25 153.80,616.80 C156.47,616.35 159.30,616.28 162.00,616.30 C164.70,616.32 166.75,616.42 170.00,616.90 C173.25,617.38 177.67,618.43 181.50,619.20 C185.33,619.97 189.15,620.73 193.00,621.50 C196.85,622.27 200.77,623.07 204.60,623.80 C208.43,624.53 212.93,625.23 216.00,625.90 C219.07,626.57 220.28,626.42 223.00,627.80 C225.72,629.18 229.17,631.78 232.30,634.20 C235.43,636.62 238.72,639.78 241.80,642.30 C244.88,644.82 247.93,647.08 250.80,649.30 C253.67,651.52 255.93,653.67 259.00,655.60 C262.07,657.53 265.57,659.50 269.20,660.90 C272.83,662.30 277.00,663.30 280.80,664.00 C284.60,664.70 287.13,664.87 292.00,665.10 C296.87,665.33 294.03,665.35 310.00,665.40 C325.97,665.45 374.83,665.40 387.80,665.40 L387.80,665.4 Z" fill="#cfa87a" clip-path="url(#cDG)"/>
<line x1="130.50" y1="534.6" x2="130.50" y2="671.5" stroke="#fff" stroke-opacity="0.3" stroke-width="1.8"/>
<line x1="254.50" y1="534.6" x2="254.50" y2="671.5" stroke="#fff" stroke-opacity="0.3" stroke-width="1.8"/>
<line x1="378.50" y1="534.6" x2="378.50" y2="671.5" stroke="#fff" stroke-opacity="0.3" stroke-width="1.8"/>
<line x1="36.8" y1="567.3" x2="404.4" y2="567.3" stroke="#fff" stroke-opacity="0.3" stroke-width="1.8"/>
<line x1="36.8" y1="600.0" x2="404.4" y2="600.0" stroke="#fff" stroke-opacity="0.3" stroke-width="1.8"/>
<line x1="36.8" y1="632.7" x2="404.4" y2="632.7" stroke="#fff" stroke-opacity="0.3" stroke-width="1.8"/>
<line x1="68.50" y1="534.6" x2="68.50" y2="671.5" stroke="#fff" stroke-opacity="0.15" stroke-width="0.9"/>
<line x1="192.50" y1="534.6" x2="192.50" y2="671.5" stroke="#fff" stroke-opacity="0.15" stroke-width="0.9"/>
<line x1="316.50" y1="534.6" x2="316.50" y2="671.5" stroke="#fff" stroke-opacity="0.15" stroke-width="0.9"/>
<line x1="36.8" y1="550.9" x2="404.4" y2="550.9" stroke="#fff" stroke-opacity="0.15" stroke-width="0.9"/>
<line x1="36.8" y1="583.6" x2="404.4" y2="583.6" stroke="#fff" stroke-opacity="0.15" stroke-width="0.9"/>
<line x1="36.8" y1="616.3" x2="404.4" y2="616.3" stroke="#fff" stroke-opacity="0.15" stroke-width="0.9"/>
<line x1="36.8" y1="649.0" x2="404.4" y2="649.0" stroke="#fff" stroke-opacity="0.15" stroke-width="0.9"/>
<path d="M53.20,665.4 L53.20,665.40 C83.50,665.40 202.20,665.48 235.00,665.40 C267.80,665.32 246.50,665.30 250.00,664.90 C253.50,664.50 254.02,664.07 256.00,663.00 C257.98,661.93 260.02,661.08 261.90,658.50 C263.78,655.92 265.37,651.48 267.30,647.50 C269.23,643.52 271.45,638.80 273.50,634.60 C275.55,630.40 277.62,626.23 279.60,622.30 C281.58,618.37 283.70,613.78 285.40,611.00 C287.10,608.22 288.27,606.98 289.80,605.60 C291.33,604.22 293.00,603.50 294.60,602.70 C296.20,601.90 297.80,601.60 299.40,600.80 C301.00,600.00 302.43,599.18 304.20,597.90 C305.97,596.62 308.07,594.78 310.00,593.10 C311.93,591.42 314.03,589.25 315.80,587.80 C317.57,586.35 319.00,585.28 320.60,584.40 C322.20,583.52 323.80,582.83 325.40,582.50 C327.00,582.17 328.60,582.27 330.20,582.40 C331.80,582.53 333.43,582.62 335.00,583.30 C336.57,583.98 338.07,585.00 339.60,586.50 C341.13,588.00 342.80,590.25 344.20,592.30 C345.60,594.35 346.65,596.10 348.00,598.80 C349.35,601.50 350.97,605.45 352.30,608.50 C353.63,611.55 354.77,614.38 356.00,617.10 C357.23,619.82 358.27,621.92 359.70,624.80 C361.13,627.68 363.17,631.77 364.60,634.40 C366.03,637.03 367.07,638.80 368.30,640.60 C369.53,642.40 370.77,644.10 372.00,645.20 C373.23,646.30 374.03,646.68 375.70,647.20 C377.37,647.72 379.98,648.00 382.00,648.30 C384.02,648.60 386.83,648.88 387.80,649.00 L387.80,665.4 Z" fill="none" stroke="#000" stroke-width="2.1" stroke-linejoin="round"/>
<path d="M53.20,665.4 L53.20,665.40 C83.50,665.40 202.20,665.48 235.00,665.40 C267.80,665.32 246.50,665.30 250.00,664.90 C253.50,664.50 254.02,664.07 256.00,663.00 C257.98,661.93 260.02,661.08 261.90,658.50 C263.78,655.92 265.37,651.48 267.30,647.50 C269.23,643.52 271.45,638.80 273.50,634.60 C275.55,630.40 277.62,626.23 279.60,622.30 C281.58,618.37 283.70,613.78 285.40,611.00 C287.10,608.22 288.27,606.98 289.80,605.60 C291.33,604.22 293.00,603.50 294.60,602.70 C296.20,601.90 297.80,601.60 299.40,600.80 C301.00,600.00 302.43,599.18 304.20,597.90 C305.97,596.62 308.07,594.78 310.00,593.10 C311.93,591.42 314.03,589.25 315.80,587.80 C317.57,586.35 319.00,585.28 320.60,584.40 C322.20,583.52 323.80,582.83 325.40,582.50 C327.00,582.17 328.60,582.27 330.20,582.40 C331.80,582.53 333.43,582.62 335.00,583.30 C336.57,583.98 338.07,585.00 339.60,586.50 C341.13,588.00 342.80,590.25 344.20,592.30 C345.60,594.35 346.65,596.10 348.00,598.80 C349.35,601.50 350.97,605.45 352.30,608.50 C353.63,611.55 354.77,614.38 356.00,617.10 C357.23,619.82 358.27,621.92 359.70,624.80 C361.13,627.68 363.17,631.77 364.60,634.40 C366.03,637.03 367.07,638.80 368.30,640.60 C369.53,642.40 370.77,644.10 372.00,645.20 C373.23,646.30 374.03,646.68 375.70,647.20 C377.37,647.72 379.98,648.00 382.00,648.30 C384.02,648.60 386.83,648.88 387.80,649.00 L387.80,665.4 Z" fill="none" stroke="#1c2a3c" stroke-width="2.1" stroke-linejoin="round" clip-path="url(#cTA)"/>
<path d="M53.20,665.4 L53.20,664.40 C56.83,663.75 68.03,662.48 75.00,660.50 C81.97,658.52 89.17,655.50 95.00,652.50 C100.83,649.50 105.83,645.95 110.00,642.50 C114.17,639.05 117.33,634.88 120.00,631.80 C122.67,628.72 124.17,626.55 126.00,624.00 C127.83,621.45 128.92,619.17 131.00,616.50 C133.08,613.83 136.17,610.12 138.50,608.00 C140.83,605.88 142.70,604.80 145.00,603.80 C147.30,602.80 149.80,602.13 152.30,602.00 C154.80,601.87 157.05,602.25 160.00,603.00 C162.95,603.75 166.42,605.22 170.00,606.50 C173.58,607.78 177.67,609.35 181.50,610.70 C185.33,612.05 189.15,613.02 193.00,614.60 C196.85,616.18 201.13,618.38 204.60,620.20 C208.07,622.02 210.73,623.37 213.80,625.50 C216.87,627.63 219.92,630.25 223.00,633.00 C226.08,635.75 229.22,639.20 232.30,642.00 C235.38,644.80 238.42,647.58 241.50,649.80 C244.58,652.02 247.72,653.73 250.80,655.30 C253.88,656.87 256.93,658.08 260.00,659.20 C263.07,660.32 265.73,661.22 269.20,662.00 C272.67,662.78 276.50,663.38 280.80,663.90 C285.10,664.42 289.30,664.85 295.00,665.10 C300.70,665.35 299.53,665.35 315.00,665.40 C330.47,665.45 375.67,665.40 387.80,665.40 L387.80,665.4 Z" fill="none" stroke="#000" stroke-width="2.1" stroke-linejoin="round"/>
<path d="M53.20,665.4 L53.20,664.40 C56.83,663.75 68.03,662.48 75.00,660.50 C81.97,658.52 89.17,655.50 95.00,652.50 C100.83,649.50 105.83,645.95 110.00,642.50 C114.17,639.05 117.33,634.88 120.00,631.80 C122.67,628.72 124.17,626.55 126.00,624.00 C127.83,621.45 128.92,619.17 131.00,616.50 C133.08,613.83 136.17,610.12 138.50,608.00 C140.83,605.88 142.70,604.80 145.00,603.80 C147.30,602.80 149.80,602.13 152.30,602.00 C154.80,601.87 157.05,602.25 160.00,603.00 C162.95,603.75 166.42,605.22 170.00,606.50 C173.58,607.78 177.67,609.35 181.50,610.70 C185.33,612.05 189.15,613.02 193.00,614.60 C196.85,616.18 201.13,618.38 204.60,620.20 C208.07,622.02 210.73,623.37 213.80,625.50 C216.87,627.63 219.92,630.25 223.00,633.00 C226.08,635.75 229.22,639.20 232.30,642.00 C235.38,644.80 238.42,647.58 241.50,649.80 C244.58,652.02 247.72,653.73 250.80,655.30 C253.88,656.87 256.93,658.08 260.00,659.20 C263.07,660.32 265.73,661.22 269.20,662.00 C272.67,662.78 276.50,663.38 280.80,663.90 C285.10,664.42 289.30,664.85 295.00,665.10 C300.70,665.35 299.53,665.35 315.00,665.40 C330.47,665.45 375.67,665.40 387.80,665.40 L387.80,665.4 Z" fill="none" stroke="#2e2216" stroke-width="2.1" stroke-linejoin="round" clip-path="url(#cTG)"/>
<path d="M53.20,665.4 L53.20,665.40 C84.33,665.40 205.87,665.43 240.00,665.40 C274.13,665.37 254.00,665.33 258.00,665.20 C262.00,665.07 262.17,665.03 264.00,664.60 C265.83,664.17 267.58,663.62 269.00,662.60 C270.42,661.58 271.25,660.35 272.50,658.50 C273.75,656.65 274.80,655.22 276.50,651.50 C278.20,647.78 280.65,641.32 282.70,636.20 C284.75,631.08 287.30,624.67 288.80,620.80 C290.30,616.93 290.73,615.88 291.70,613.00 C292.67,610.12 293.63,606.33 294.60,603.50 C295.57,600.67 296.53,598.22 297.50,596.00 C298.47,593.78 299.28,591.82 300.40,590.20 C301.52,588.58 302.77,587.23 304.20,586.30 C305.63,585.37 307.55,585.27 309.00,584.60 C310.45,583.93 311.77,583.45 312.90,582.30 C314.03,581.15 314.87,579.50 315.80,577.70 C316.73,575.90 317.42,574.25 318.50,571.50 C319.58,568.75 321.08,564.85 322.30,561.20 C323.52,557.55 324.73,552.88 325.80,549.60 C326.87,546.32 327.75,543.27 328.70,541.50 C329.65,539.73 330.48,539.08 331.50,539.00 C332.52,538.92 333.83,539.80 334.80,541.00 C335.77,542.20 336.50,544.00 337.30,546.20 C338.10,548.40 338.83,551.32 339.60,554.20 C340.37,557.08 341.13,560.23 341.90,563.50 C342.67,566.77 343.43,570.15 344.20,573.80 C344.97,577.45 345.77,581.48 346.50,585.40 C347.23,589.32 347.85,593.25 348.60,597.30 C349.35,601.35 350.18,605.98 351.00,609.70 C351.82,613.42 352.57,616.10 353.50,619.60 C354.43,623.10 355.57,627.42 356.60,630.70 C357.63,633.98 358.57,636.77 359.70,639.30 C360.83,641.83 362.07,644.37 363.40,645.90 C364.73,647.43 366.27,648.18 367.70,648.50 C369.13,648.82 370.45,647.98 372.00,647.80 C373.55,647.62 375.33,647.37 377.00,647.40 C378.67,647.43 380.20,647.80 382.00,648.00 C383.80,648.20 386.83,648.50 387.80,648.60 L387.80,665.4 Z" fill="none" stroke="#000" stroke-width="2.1" stroke-linejoin="round"/>
<path d="M53.20,665.4 L53.20,656.30 C56.00,655.50 63.87,653.38 70.00,651.50 C76.13,649.62 85.00,646.78 90.00,645.00 C95.00,643.22 96.67,642.30 100.00,640.80 C103.33,639.30 106.67,637.60 110.00,636.00 C113.33,634.40 116.67,632.78 120.00,631.20 C123.33,629.62 126.92,627.98 130.00,626.50 C133.08,625.02 135.83,623.55 138.50,622.30 C141.17,621.05 143.45,619.92 146.00,619.00 C148.55,618.08 151.13,617.25 153.80,616.80 C156.47,616.35 159.30,616.28 162.00,616.30 C164.70,616.32 166.75,616.42 170.00,616.90 C173.25,617.38 177.67,618.43 181.50,619.20 C185.33,619.97 189.15,620.73 193.00,621.50 C196.85,622.27 200.77,623.07 204.60,623.80 C208.43,624.53 212.93,625.23 216.00,625.90 C219.07,626.57 220.28,626.42 223.00,627.80 C225.72,629.18 229.17,631.78 232.30,634.20 C235.43,636.62 238.72,639.78 241.80,642.30 C244.88,644.82 247.93,647.08 250.80,649.30 C253.67,651.52 255.93,653.67 259.00,655.60 C262.07,657.53 265.57,659.50 269.20,660.90 C272.83,662.30 277.00,663.30 280.80,664.00 C284.60,664.70 287.13,664.87 292.00,665.10 C296.87,665.33 294.03,665.35 310.00,665.40 C325.97,665.45 374.83,665.40 387.80,665.40 L387.80,665.4 Z" fill="none" stroke="#000" stroke-width="2.1" stroke-linejoin="round"/>
<text x="413.3" y="578.2" font-size="9.8">Category</text>
<rect x="413.4" y="581.8" width="11.4" height="10.9" fill="#bcc6d3" stroke="#000" stroke-width="1.3"/>
<line x1="413.6" y1="592.5" x2="424.6" y2="582.0" stroke="#000" stroke-width="2.2"/>
<text x="426.6" y="591.1" font-size="9.9">DLBCL ABC</text>
<rect x="413.4" y="593.9" width="11.4" height="10.9" fill="#d0c0aa" stroke="#000" stroke-width="1.3"/>
<line x1="413.6" y1="604.6" x2="424.6" y2="594.1" stroke="#000" stroke-width="2.2"/>
<text x="426.6" y="603.2" font-size="9.9">DLBCL GCB</text>
<rect x="413.4" y="606.0" width="11.4" height="10.9" fill="#d3e0ef" stroke="#000" stroke-width="1.3"/>
<line x1="413.6" y1="616.7" x2="424.6" y2="606.2" stroke="#000" stroke-width="2.2"/>
<text x="426.6" y="615.3" font-size="9.9">TFL ABC</text>
<rect x="413.4" y="618.1" width="11.4" height="10.9" fill="#ecd9bb" stroke="#000" stroke-width="1.3"/>
<line x1="413.6" y1="628.8" x2="424.6" y2="618.3" stroke="#000" stroke-width="2.2"/>
<text x="426.6" y="627.4" font-size="9.9">TFL GCB</text>
</svg>
</body></html>
